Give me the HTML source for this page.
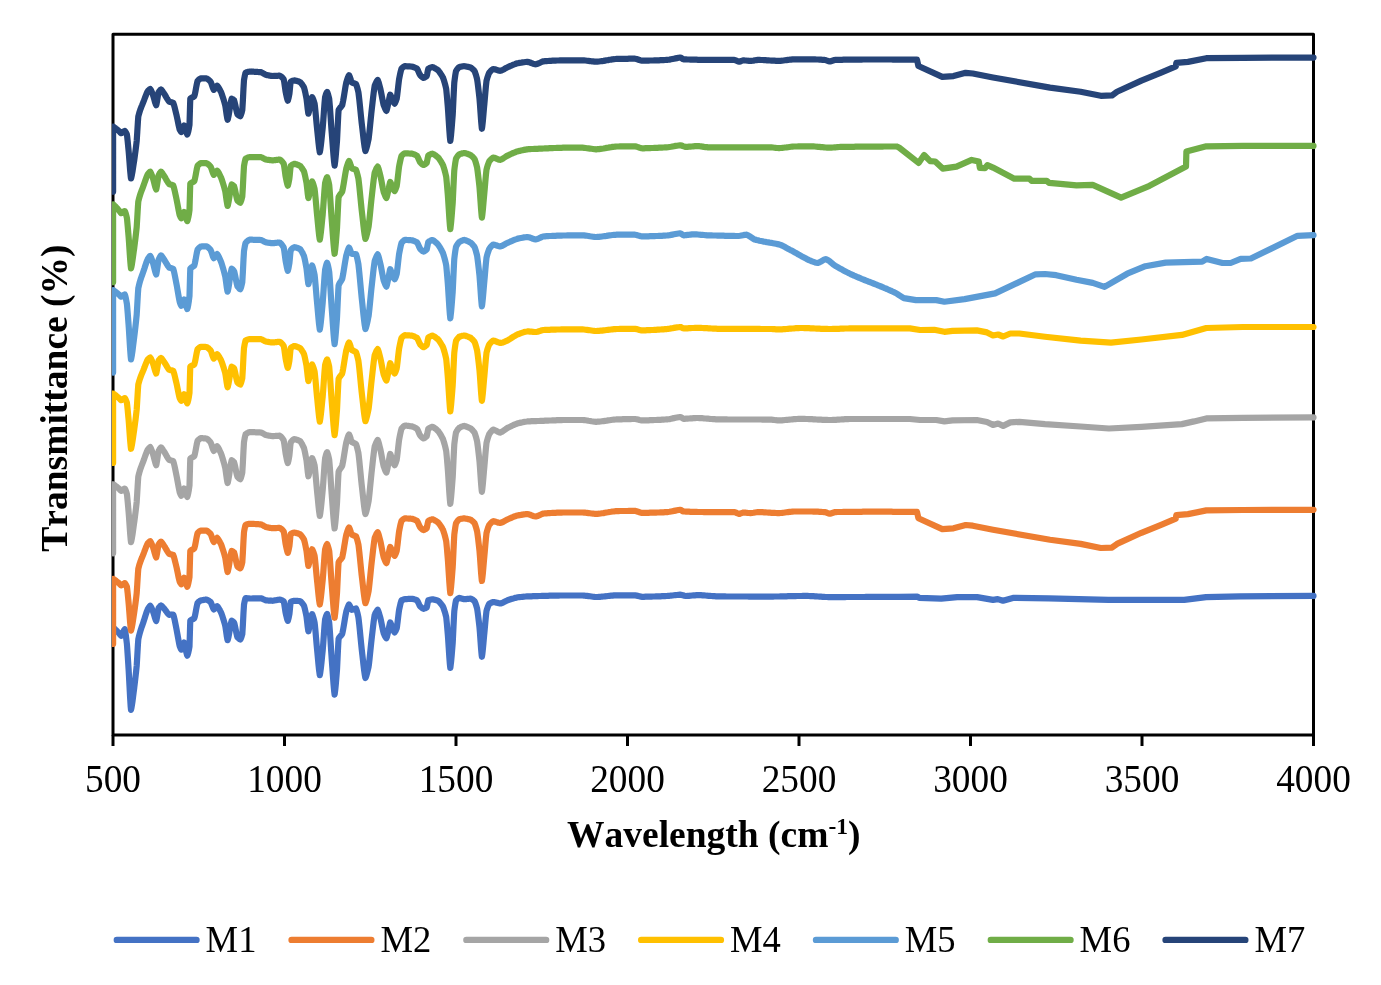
<!DOCTYPE html>
<html><head><meta charset="utf-8"><title>FTIR spectra</title>
<style>
html,body{margin:0;padding:0;background:#fff;}
svg{display:block;}
text{font-family:"Liberation Serif",serif;fill:#000;font-kerning:none;}
</style></head><body>
<svg width="1381" height="985" viewBox="0 0 1381 985">
<rect width="1381" height="985" fill="#fff"/>
<g fill="none" stroke="#000" stroke-width="3" stroke-linejoin="round">
<rect x="113.0" y="34.3" width="1200.5" height="700.7"/>
<line x1="113.0" y1="735.0" x2="113.0" y2="746"/><line x1="284.5" y1="735.0" x2="284.5" y2="746"/><line x1="456.0" y1="735.0" x2="456.0" y2="746"/><line x1="627.5" y1="735.0" x2="627.5" y2="746"/><line x1="799.0" y1="735.0" x2="799.0" y2="746"/><line x1="970.5" y1="735.0" x2="970.5" y2="746"/><line x1="1142.0" y1="735.0" x2="1142.0" y2="746"/><line x1="1313.5" y1="735.0" x2="1313.5" y2="746"/>
</g>
<clipPath id="pc"><rect x="112" y="30" width="1210" height="710"/></clipPath>
<g fill="none" stroke-width="6.2" stroke-linejoin="round" stroke-linecap="round" clip-path="url(#pc)">
<path d="M113.3 627.6 L113.9 628.1 L114.5 628.7 L115.1 629.3 L115.7 629.8 L116.3 630.4 L116.9 631.0 L117.5 631.6 L118.1 632.2 L118.7 632.8 L118.8 632.9 L119.3 633.5 L119.9 634.3 L120.5 635.1 L121.1 635.6 L121.2 635.7 L121.7 635.1 L122.3 634.0 L122.9 632.7 L123.5 631.4 L124.1 630.2 L124.7 629.4 L124.8 629.3 L125.3 631.7 L125.9 635.8 L126.5 640.7 L126.9 644.0 L127.1 646.6 L127.7 655.2 L128.3 664.6 L128.6 669.3 L128.9 674.5 L129.5 686.0 L130.1 697.4 L130.7 706.7 L131.0 709.8 L131.3 708.6 L131.9 705.3 L132.5 701.2 L133.1 696.5 L133.7 691.8 L134.2 688.0 L134.3 687.1 L134.9 682.1 L135.5 677.0 L136.1 671.6 L136.7 665.7 L136.7 665.7 L137.3 655.6 L137.9 645.0 L138.3 639.4 L138.5 638.4 L139.1 635.8 L139.7 633.5 L140.3 631.4 L140.9 629.4 L141.5 627.6 L142.1 625.9 L142.7 624.2 L143.3 622.4 L143.9 620.5 L144.0 620.2 L144.5 618.7 L145.1 616.8 L145.7 614.9 L146.3 613.1 L146.9 611.3 L147.5 609.8 L147.6 609.5 L148.1 608.7 L148.7 607.7 L149.3 606.8 L149.9 606.1 L150.2 605.8 L150.5 606.1 L151.1 607.1 L151.7 608.4 L152.3 609.7 L152.9 611.0 L152.9 611.1 L153.5 612.9 L154.1 614.9 L154.7 617.0 L155.3 618.9 L155.9 620.5 L156.2 621.0 L156.5 619.9 L157.1 616.7 L157.7 612.9 L158.3 609.4 L158.6 608.1 L158.9 607.7 L159.5 606.9 L160.1 606.2 L160.7 605.7 L161.0 605.5 L161.3 605.7 L161.9 606.1 L162.5 606.7 L163.1 607.4 L163.7 608.1 L164.3 608.8 L164.3 608.8 L164.9 609.5 L165.5 610.3 L166.1 611.2 L166.7 612.0 L167.3 612.9 L167.9 613.6 L168.5 614.2 L169.1 614.7 L169.2 614.8 L169.7 614.8 L170.3 614.7 L170.9 614.7 L171.5 614.7 L172.1 614.6 L172.7 614.6 L173.2 614.6 L173.3 614.8 L173.9 616.7 L174.5 619.2 L175.1 622.1 L175.7 625.2 L176.3 628.2 L176.5 629.2 L176.9 631.3 L177.5 634.6 L178.1 638.0 L178.7 641.3 L179.3 644.3 L179.7 646.1 L179.9 646.6 L180.5 648.1 L181.1 649.3 L181.3 649.6 L181.7 648.9 L182.3 647.3 L182.9 645.5 L183.5 643.8 L184.1 642.6 L184.1 642.6 L184.7 644.4 L185.3 647.1 L185.9 650.2 L186.5 653.0 L187.1 655.2 L187.3 655.7 L187.7 654.7 L188.3 652.7 L188.9 649.9 L189.5 646.5 L189.5 646.5 L190.1 625.9 L190.3 620.7 L190.7 620.3 L191.3 619.9 L191.9 619.6 L192.5 619.3 L193.1 619.1 L193.7 618.7 L194.3 618.3 L194.3 618.3 L194.9 616.1 L195.5 613.1 L196.1 609.8 L196.7 606.6 L197.3 603.9 L197.6 602.9 L197.9 602.6 L198.5 602.0 L199.1 601.5 L199.7 601.1 L200.3 600.7 L200.8 600.4 L200.9 600.4 L201.5 600.3 L202.1 600.2 L202.7 600.1 L203.3 600.0 L203.9 599.9 L204.5 599.8 L205.1 599.7 L205.7 599.7 L206.3 599.6 L206.5 599.6 L206.9 599.8 L207.5 600.0 L208.1 600.3 L208.7 600.7 L209.3 601.1 L209.9 601.5 L210.5 601.9 L210.6 602.0 L211.1 603.0 L211.7 604.5 L212.3 606.2 L212.9 607.7 L213.5 609.0 L213.8 609.4 L214.1 609.2 L214.7 608.6 L215.3 607.9 L215.9 607.2 L216.5 606.5 L217.1 606.1 L217.1 606.1 L217.7 606.7 L218.3 607.5 L218.9 608.5 L219.5 609.5 L220.1 610.7 L220.7 611.8 L221.1 612.6 L221.3 613.1 L221.9 614.8 L222.5 616.6 L223.1 618.4 L223.7 620.3 L224.3 622.4 L224.9 624.5 L225.2 625.6 L225.5 627.3 L226.1 631.4 L226.7 635.6 L227.3 639.0 L227.6 640.2 L227.9 639.3 L228.5 636.9 L229.1 633.7 L229.7 630.2 L230.3 626.7 L230.9 623.6 L231.5 621.2 L231.7 620.7 L232.1 620.9 L232.7 621.3 L233.3 621.8 L233.9 622.4 L234.1 622.7 L234.5 624.0 L235.1 626.6 L235.7 629.6 L236.3 632.6 L236.9 635.3 L237.4 637.1 L237.5 637.2 L238.1 637.8 L238.7 638.4 L239.3 638.9 L239.9 639.3 L240.3 639.5 L240.5 639.2 L241.1 637.9 L241.7 636.2 L242.3 634.2 L242.3 634.2 L242.9 624.6 L243.5 612.7 L244.0 604.7 L244.1 604.2 L244.7 601.2 L245.3 598.8 L245.6 598.1 L245.9 598.1 L246.5 598.1 L247.1 598.2 L247.7 598.3 L248.3 598.4 L248.9 598.4 L249.5 598.5 L249.6 598.5 L250.1 598.5 L250.7 598.5 L251.3 598.5 L251.9 598.5 L252.5 598.5 L253.1 598.4 L253.7 598.4 L254.3 598.4 L254.9 598.4 L255.5 598.4 L256.1 598.4 L256.7 598.4 L257.3 598.4 L257.9 598.3 L258.5 598.3 L259.1 598.3 L259.7 598.3 L260.3 598.3 L260.9 598.3 L261.0 598.3 L261.5 598.4 L262.1 598.6 L262.7 598.9 L263.3 599.2 L263.9 599.5 L264.5 599.8 L265.1 600.1 L265.7 600.3 L265.9 600.3 L266.3 600.4 L266.9 600.4 L267.5 600.5 L268.1 600.5 L268.7 600.6 L269.3 600.6 L269.9 600.6 L270.5 600.7 L271.1 600.7 L271.7 600.7 L272.3 600.8 L272.4 600.8 L272.9 600.7 L273.5 600.6 L274.1 600.5 L274.7 600.4 L275.3 600.3 L275.9 600.2 L276.5 600.1 L277.1 600.0 L277.7 599.9 L278.3 599.8 L278.9 599.7 L279.5 599.6 L279.7 599.6 L280.1 599.7 L280.7 599.9 L281.3 600.0 L281.9 600.3 L282.5 600.6 L283.1 600.9 L283.7 601.2 L283.7 601.2 L284.3 604.2 L284.9 608.2 L285.5 612.2 L285.7 613.3 L286.1 614.9 L286.7 617.4 L287.3 619.6 L287.8 620.8 L287.9 620.6 L288.5 618.5 L289.1 615.6 L289.4 614.1 L289.7 611.4 L290.3 605.0 L290.7 601.9 L290.9 601.8 L291.5 601.6 L292.1 601.3 L292.7 601.1 L293.3 601.0 L293.9 600.9 L294.3 600.8 L294.5 600.8 L295.1 600.8 L295.7 600.8 L296.3 600.9 L296.9 600.9 L297.5 600.9 L298.1 601.0 L298.7 601.0 L299.3 601.0 L299.9 601.1 L300.0 601.1 L300.5 601.5 L301.1 602.0 L301.7 602.6 L302.3 603.4 L302.9 604.2 L303.5 605.0 L304.0 605.8 L304.1 606.1 L304.7 608.3 L305.3 610.9 L305.9 613.7 L306.5 616.6 L306.5 616.6 L307.1 621.5 L307.7 626.8 L308.3 630.9 L308.4 631.3 L308.9 629.5 L309.5 626.4 L310.1 623.0 L310.5 620.9 L310.7 620.0 L311.3 617.1 L311.9 614.7 L312.1 614.2 L312.5 615.0 L313.1 616.7 L313.7 618.9 L314.3 621.3 L314.6 622.6 L314.9 625.2 L315.5 631.4 L316.1 638.4 L316.7 645.4 L317.0 648.7 L317.3 651.8 L317.9 658.3 L318.5 664.7 L319.1 670.4 L319.7 674.6 L319.8 675.1 L320.3 672.4 L320.9 667.8 L321.5 662.3 L322.1 656.3 L322.7 650.5 L322.7 650.5 L323.3 642.7 L323.9 634.0 L324.5 625.8 L325.1 619.3 L325.1 619.3 L325.7 617.3 L326.3 615.5 L326.9 614.2 L327.1 613.9 L327.5 615.0 L328.1 617.2 L328.7 620.1 L329.2 622.7 L329.3 623.7 L329.9 631.5 L330.5 640.5 L331.1 650.0 L331.6 657.4 L331.7 658.7 L332.3 667.1 L332.9 675.7 L333.5 683.8 L334.1 690.6 L334.6 694.6 L334.7 694.0 L335.3 689.4 L335.9 683.1 L336.5 675.9 L337.0 669.8 L337.1 668.1 L337.7 655.4 L338.3 643.1 L338.6 638.8 L338.9 638.2 L339.5 637.2 L340.1 636.5 L340.7 635.8 L341.3 635.2 L341.9 634.4 L342.2 633.9 L342.5 632.6 L343.1 629.7 L343.7 626.3 L344.3 622.7 L344.9 619.1 L345.5 615.6 L346.1 612.5 L346.3 611.5 L346.7 610.3 L347.3 608.5 L347.9 606.8 L348.5 605.3 L349.0 604.5 L349.1 604.6 L349.7 605.5 L350.3 606.8 L350.9 608.1 L351.5 609.3 L351.9 609.8 L352.1 609.7 L352.7 609.6 L353.3 609.4 L353.9 609.2 L354.5 608.9 L355.1 608.7 L355.7 608.6 L356.0 608.5 L356.3 609.2 L356.9 611.0 L357.5 613.3 L358.1 615.9 L358.4 617.3 L358.7 619.6 L359.3 625.0 L359.9 630.9 L360.5 637.1 L361.1 643.3 L361.7 649.1 L361.7 649.1 L362.3 654.3 L362.9 659.7 L363.5 665.1 L364.1 670.1 L364.7 674.4 L365.3 677.6 L365.4 678.0 L365.9 676.9 L366.5 675.2 L367.1 673.0 L367.7 670.6 L368.3 668.0 L368.6 666.7 L368.9 664.5 L369.5 659.3 L370.1 653.5 L370.7 647.6 L371.3 641.9 L371.5 640.1 L371.9 636.7 L372.5 631.5 L373.1 626.3 L373.7 621.4 L374.3 617.2 L374.7 614.8 L374.9 614.4 L375.5 613.1 L376.1 612.0 L376.7 611.0 L377.3 610.2 L377.7 609.8 L377.9 610.1 L378.5 611.6 L379.1 613.5 L379.7 615.6 L380.3 617.7 L380.4 618.1 L380.9 620.3 L381.5 623.2 L382.1 626.2 L382.7 629.1 L383.3 631.8 L383.7 633.3 L383.9 633.8 L384.5 635.1 L385.1 636.4 L385.7 637.4 L386.3 638.2 L386.4 638.3 L386.9 636.9 L387.5 634.5 L388.1 631.8 L388.6 629.6 L388.7 629.1 L389.3 626.1 L389.9 623.3 L390.2 622.4 L390.5 622.9 L391.1 624.3 L391.7 626.1 L392.3 627.8 L392.6 628.6 L392.9 629.2 L393.5 630.6 L394.1 631.7 L394.6 632.4 L394.7 632.3 L395.3 631.4 L395.9 630.3 L396.5 628.9 L396.7 628.4 L397.1 625.9 L397.7 621.1 L398.3 616.0 L398.9 611.2 L399.1 609.9 L399.5 608.0 L400.1 605.3 L400.7 602.8 L401.3 600.8 L401.5 600.3 L401.9 600.1 L402.5 599.9 L403.1 599.7 L403.7 599.5 L404.3 599.3 L404.8 599.2 L404.9 599.2 L405.5 599.1 L406.1 599.1 L406.7 599.1 L407.3 599.0 L407.9 599.0 L408.5 598.9 L409.1 598.9 L409.7 598.9 L410.3 598.8 L410.9 598.8 L411.5 598.8 L412.1 598.8 L412.1 598.8 L412.7 598.9 L413.3 599.0 L413.9 599.2 L414.5 599.4 L415.1 599.6 L415.7 599.8 L416.3 600.0 L416.9 600.3 L417.0 600.3 L417.5 601.1 L418.1 602.2 L418.7 603.5 L419.3 604.8 L419.9 606.0 L420.2 606.5 L420.5 606.7 L421.1 607.2 L421.7 607.7 L422.3 608.2 L422.9 608.5 L423.5 608.8 L423.5 608.8 L424.1 608.6 L424.7 608.4 L425.3 608.2 L425.9 607.9 L426.5 607.5 L426.7 607.4 L427.1 605.9 L427.7 602.7 L428.3 600.3 L428.3 600.3 L428.9 600.1 L429.5 599.9 L430.1 599.7 L430.7 599.6 L431.3 599.5 L431.9 599.4 L432.4 599.3 L432.5 599.3 L433.1 599.4 L433.7 599.5 L434.3 599.7 L434.9 599.8 L435.5 600.0 L436.1 600.1 L436.7 600.3 L437.3 600.5 L437.9 600.7 L438.1 600.8 L438.5 601.2 L439.1 601.7 L439.7 602.3 L440.3 603.0 L440.9 603.8 L441.5 604.5 L442.1 605.4 L442.7 606.2 L443.0 606.7 L443.3 607.4 L443.9 609.1 L444.5 610.9 L445.1 612.8 L445.7 615.1 L446.2 617.1 L446.3 618.0 L446.9 624.0 L447.5 631.0 L447.8 634.4 L448.1 638.5 L448.7 647.6 L449.3 656.7 L449.9 664.4 L450.3 667.9 L450.5 666.7 L451.1 661.7 L451.7 655.2 L452.3 647.9 L452.7 643.0 L452.9 639.3 L453.5 626.6 L454.1 614.4 L454.3 611.2 L454.7 608.1 L455.3 604.1 L455.9 600.9 L456.0 600.5 L456.5 600.0 L457.1 599.4 L457.7 598.8 L458.3 598.4 L458.9 598.1 L459.2 597.9 L459.5 598.0 L460.1 598.1 L460.7 598.3 L461.3 598.5 L461.9 598.6 L462.5 598.8 L463.1 599.0 L463.7 599.1 L464.1 599.2 L464.3 599.2 L464.9 599.2 L465.5 599.1 L466.1 599.1 L466.7 599.0 L467.3 598.9 L467.9 598.9 L468.5 598.8 L469.1 598.8 L469.7 598.7 L470.3 598.7 L470.6 598.7 L470.9 598.8 L471.5 599.0 L472.1 599.3 L472.7 599.7 L473.3 600.1 L473.9 600.6 L474.5 601.1 L474.6 601.2 L475.1 602.3 L475.7 603.9 L476.3 605.8 L476.9 607.8 L477.1 608.5 L477.5 611.1 L478.1 615.6 L478.7 620.5 L479.3 625.6 L479.5 627.4 L479.9 632.2 L480.5 640.7 L481.1 648.9 L481.7 655.4 L481.9 656.8 L482.3 654.3 L482.9 648.9 L483.5 642.4 L484.1 635.8 L484.4 632.7 L484.7 629.5 L485.3 622.7 L485.9 616.2 L486.5 610.9 L486.5 610.9 L487.1 609.0 L487.7 607.2 L488.3 605.7 L488.9 604.4 L489.2 603.9 L489.5 603.7 L490.1 603.3 L490.7 603.0 L491.3 602.7 L491.9 602.5 L492.5 602.2 L493.1 602.0 L493.3 602.0 L493.7 602.0 L494.3 602.1 L494.9 602.3 L495.5 602.4 L496.1 602.5 L496.7 602.7 L497.3 602.8 L497.9 603.0 L498.5 603.1 L499.1 603.3 L499.7 603.4 L500.0 603.4 L500.7 603.5 L501.5 603.3 L503.0 602.6 L504.5 601.8 L506.0 601.0 L507.2 600.4 L507.5 600.3 L509.0 599.8 L510.5 599.3 L512.0 598.8 L513.5 598.4 L515.0 597.9 L516.5 597.6 L517.3 597.4 L518.0 597.3 L519.5 597.1 L521.0 597.0 L522.5 596.8 L524.0 596.7 L525.5 596.5 L527.0 596.4 L527.4 596.4 L528.5 596.4 L530.0 596.3 L531.5 596.3 L533.0 596.2 L534.5 596.2 L536.0 596.1 L537.5 596.1 L539.0 596.0 L540.5 596.0 L542.0 595.9 L543.5 595.9 L545.0 595.8 L546.5 595.8 L548.0 595.8 L549.5 595.7 L551.0 595.7 L552.5 595.7 L554.0 595.6 L555.5 595.6 L557.0 595.6 L558.5 595.6 L560.0 595.5 L561.5 595.5 L563.0 595.5 L563.9 595.5 L564.5 595.5 L566.0 595.5 L567.5 595.5 L569.0 595.5 L570.5 595.5 L572.0 595.5 L573.5 595.5 L575.0 595.5 L576.5 595.5 L578.0 595.5 L579.5 595.5 L581.0 595.5 L582.2 595.5 L582.5 595.5 L584.0 595.6 L585.5 595.8 L587.0 595.9 L588.5 596.1 L590.0 596.3 L591.5 596.5 L593.0 596.7 L594.5 596.9 L596.0 597.0 L596.4 597.0 L597.5 597.0 L599.0 596.9 L600.5 596.8 L602.0 596.6 L603.5 596.5 L605.0 596.3 L606.5 596.2 L608.0 596.0 L609.5 595.8 L611.0 595.7 L612.5 595.6 L614.0 595.4 L615.5 595.4 L616.7 595.3 L617.0 595.3 L618.5 595.3 L620.0 595.3 L621.5 595.3 L623.0 595.3 L624.5 595.3 L626.0 595.3 L627.5 595.3 L629.0 595.3 L630.5 595.3 L632.0 595.3 L633.5 595.3 L634.9 595.3 L635.0 595.3 L636.5 595.6 L638.0 595.9 L639.5 596.3 L641.0 596.7 L642.0 596.8 L642.5 596.8 L644.0 596.8 L645.5 596.7 L647.0 596.7 L648.5 596.7 L650.0 596.6 L651.5 596.6 L653.0 596.5 L654.5 596.5 L656.0 596.4 L657.5 596.4 L659.0 596.3 L660.5 596.3 L662.0 596.2 L663.5 596.2 L665.0 596.1 L666.5 596.0 L667.3 596.0 L668.0 595.9 L669.5 595.8 L671.0 595.6 L672.5 595.5 L674.0 595.3 L675.5 595.1 L677.0 595.0 L678.5 594.8 L680.0 594.7 L680.5 594.7 L681.5 594.9 L683.0 595.3 L684.5 595.8 L685.6 596.0 L686.0 596.0 L687.5 595.9 L689.0 595.8 L690.5 595.7 L692.0 595.5 L693.5 595.4 L695.0 595.3 L696.5 595.2 L697.8 595.1 L698.0 595.1 L699.5 595.2 L701.0 595.2 L702.5 595.3 L704.0 595.4 L705.5 595.5 L707.0 595.7 L708.5 595.8 L710.0 595.9 L711.5 596.0 L713.0 596.1 L714.5 596.2 L716.0 596.3 L717.5 596.4 L718.0 596.4 L719.0 596.4 L720.5 596.4 L722.0 596.4 L723.5 596.4 L725.0 596.4 L726.5 596.5 L728.0 596.5 L729.5 596.5 L731.0 596.5 L732.5 596.5 L734.0 596.5 L735.5 596.5 L737.0 596.5 L738.5 596.5 L740.0 596.5 L741.5 596.5 L743.0 596.5 L744.5 596.5 L746.0 596.5 L747.5 596.5 L749.0 596.6 L750.5 596.6 L752.0 596.6 L753.5 596.6 L755.0 596.6 L756.5 596.6 L758.0 596.6 L759.5 596.6 L761.0 596.6 L762.5 596.6 L764.0 596.6 L765.5 596.6 L767.0 596.6 L768.5 596.6 L770.0 596.6 L771.5 596.6 L773.0 596.6 L774.5 596.5 L776.0 596.5 L777.5 596.5 L779.0 596.5 L780.5 596.4 L782.0 596.4 L783.5 596.4 L785.0 596.3 L786.5 596.3 L788.0 596.2 L789.5 596.2 L791.0 596.2 L792.5 596.1 L794.0 596.1 L795.5 596.1 L797.0 596.0 L798.5 596.0 L800.0 596.0 L801.5 596.0 L803.0 595.9 L804.5 595.9 L805.8 595.9 L806.0 595.9 L807.5 595.9 L809.0 596.0 L810.5 596.1 L812.0 596.1 L813.5 596.2 L815.0 596.3 L816.5 596.4 L818.0 596.5 L819.5 596.6 L821.0 596.7 L822.5 596.8 L824.0 596.9 L825.5 597.0 L827.0 597.0 L828.5 597.1 L829.7 597.1 L830.0 597.1 L831.5 597.1 L833.0 597.1 L834.5 597.1 L836.0 597.1 L837.5 597.1 L839.0 597.1 L840.5 597.1 L842.0 597.1 L843.5 597.1 L845.0 597.1 L846.5 597.0 L848.0 597.0 L849.5 597.0 L851.0 597.0 L852.5 597.0 L854.0 597.0 L855.5 597.0 L857.0 597.0 L858.5 597.0 L860.0 597.0 L861.5 597.0 L863.0 597.0 L864.5 597.0 L866.0 596.9 L867.5 596.9 L869.0 596.9 L870.5 596.9 L872.0 596.9 L873.5 596.9 L875.0 596.9 L876.5 596.9 L878.0 596.9 L879.5 596.9 L881.0 596.9 L882.5 596.8 L884.0 596.8 L885.5 596.8 L887.0 596.8 L888.5 596.8 L890.0 596.8 L891.5 596.8 L893.0 596.8 L894.5 596.8 L896.0 596.8 L897.5 596.8 L899.0 596.8 L917.4 596.7 L919.3 597.9 L941.2 598.7 L957.2 597.1 L977.1 597.1 L993.0 599.9 L997.8 599.1 L1003.0 600.7 L1012.9 597.9 L1048.8 598.3 L1108.5 599.9 L1184.2 599.9 L1206.1 597.1 L1240.0 596.3 L1313.5 595.9" stroke="#4472C4"/>
<path d="M113.1 643.9 L113.1 578.9 L113.3 578.9 L113.9 579.3 L114.5 579.8 L115.1 580.2 L115.7 580.7 L116.3 581.1 L116.9 581.6 L117.5 582.1 L118.1 582.5 L118.7 583.0 L118.8 583.1 L119.3 583.6 L119.9 584.3 L120.5 584.9 L121.1 585.3 L121.2 585.4 L121.7 585.2 L122.3 584.8 L122.9 584.3 L123.5 583.9 L124.1 583.4 L124.7 583.1 L124.8 583.1 L125.3 583.7 L125.9 584.6 L126.5 585.8 L126.9 586.7 L127.1 588.1 L127.7 593.5 L128.3 599.8 L128.6 602.9 L128.9 606.4 L129.5 614.3 L130.1 622.2 L130.7 628.5 L131.0 630.7 L131.3 629.7 L131.9 627.0 L132.5 623.6 L133.1 619.7 L133.7 615.8 L134.2 612.6 L134.3 611.9 L134.9 607.6 L135.5 603.1 L136.1 598.4 L136.7 593.2 L136.7 593.2 L137.3 583.9 L137.9 574.0 L138.3 568.8 L138.5 568.0 L139.1 565.7 L139.7 563.7 L140.3 561.9 L140.9 560.3 L141.5 558.7 L142.1 557.3 L142.7 555.8 L143.3 554.3 L143.9 552.8 L144.0 552.5 L144.5 551.2 L145.1 549.6 L145.7 548.0 L146.3 546.5 L146.9 545.1 L147.5 543.8 L147.6 543.6 L148.1 543.0 L148.7 542.4 L149.3 541.8 L149.9 541.4 L150.2 541.2 L150.5 541.6 L151.1 542.6 L151.7 544.0 L152.3 545.4 L152.9 546.9 L152.9 546.9 L153.5 548.8 L154.1 551.0 L154.7 553.2 L155.3 555.2 L155.9 556.8 L156.2 557.4 L156.5 556.3 L157.1 553.1 L157.7 549.2 L158.3 545.7 L158.6 544.4 L158.9 544.0 L159.5 543.1 L160.1 542.4 L160.7 541.9 L161.0 541.7 L161.3 541.9 L161.9 542.6 L162.5 543.4 L163.1 544.3 L163.7 545.2 L164.3 546.1 L164.3 546.1 L164.9 547.0 L165.5 548.1 L166.1 549.1 L166.7 550.2 L167.3 551.2 L167.9 552.1 L168.5 553.0 L169.1 553.7 L169.2 553.8 L169.7 554.0 L170.3 554.2 L170.9 554.3 L171.5 554.5 L172.1 554.6 L172.7 554.8 L173.2 555.0 L173.3 555.2 L173.9 556.9 L174.5 559.0 L175.1 561.4 L175.7 563.9 L176.3 566.4 L176.5 567.2 L176.9 569.0 L177.5 571.9 L178.1 574.9 L178.7 577.8 L179.3 580.3 L179.7 581.8 L179.9 582.2 L180.5 583.2 L181.1 584.0 L181.3 584.2 L181.7 583.6 L182.3 582.1 L182.9 580.4 L183.5 578.8 L184.1 577.7 L184.1 577.7 L184.7 579.0 L185.3 580.8 L185.9 582.9 L186.5 584.9 L187.1 586.4 L187.3 586.7 L187.7 585.6 L188.3 583.5 L188.9 580.5 L189.5 576.9 L189.5 576.9 L190.1 556.1 L190.3 550.9 L190.7 550.5 L191.3 550.1 L191.9 549.8 L192.5 549.5 L193.1 549.3 L193.7 548.9 L194.3 548.5 L194.3 548.5 L194.9 546.3 L195.5 543.3 L196.1 540.0 L196.7 536.8 L197.3 534.1 L197.6 533.1 L197.9 532.8 L198.5 532.2 L199.1 531.7 L199.7 531.2 L200.3 530.8 L200.8 530.6 L200.9 530.6 L201.5 530.6 L202.1 530.6 L202.7 530.6 L203.3 530.6 L203.9 530.6 L204.5 530.6 L205.1 530.6 L205.7 530.6 L206.3 530.6 L206.5 530.6 L206.9 530.8 L207.5 531.1 L208.1 531.6 L208.7 532.1 L209.3 532.6 L209.9 533.2 L210.5 533.8 L210.6 533.9 L211.1 535.0 L211.7 536.7 L212.3 538.5 L212.9 540.2 L213.5 541.5 L213.8 542.0 L214.1 541.8 L214.7 541.1 L215.3 540.2 L215.9 539.3 L216.5 538.5 L217.1 537.9 L217.1 537.9 L217.7 538.5 L218.3 539.3 L218.9 540.3 L219.5 541.3 L220.1 542.5 L220.7 543.6 L221.1 544.4 L221.3 544.9 L221.9 546.6 L222.5 548.4 L223.1 550.2 L223.7 552.1 L224.3 554.2 L224.9 556.3 L225.2 557.4 L225.5 559.1 L226.1 563.2 L226.7 567.4 L227.3 570.8 L227.6 572.0 L227.9 571.1 L228.5 568.4 L229.1 564.9 L229.7 561.1 L230.3 557.4 L230.9 554.0 L231.5 551.5 L231.7 550.9 L232.1 551.1 L232.7 551.4 L233.3 551.8 L233.9 552.3 L234.1 552.5 L234.5 553.8 L235.1 556.3 L235.7 559.2 L236.3 562.1 L236.9 564.7 L237.4 566.4 L237.5 566.5 L238.1 567.0 L238.7 567.5 L239.3 567.9 L239.9 568.2 L240.3 568.4 L240.5 568.1 L241.1 566.6 L241.7 564.7 L242.3 562.3 L242.3 562.3 L242.9 552.5 L243.5 540.4 L244.0 532.2 L244.1 531.6 L244.7 528.4 L245.3 525.8 L245.6 524.9 L245.9 524.8 L246.5 524.5 L247.1 524.3 L247.7 524.2 L248.3 524.0 L248.9 523.9 L249.5 523.8 L249.6 523.8 L250.1 523.8 L250.7 523.8 L251.3 523.9 L251.9 523.9 L252.5 523.9 L253.1 523.9 L253.7 523.9 L254.3 524.0 L254.9 524.0 L255.5 524.0 L256.1 524.1 L256.7 524.1 L257.3 524.1 L257.9 524.2 L258.5 524.2 L259.1 524.3 L259.7 524.3 L260.3 524.3 L260.9 524.4 L261.0 524.4 L261.5 524.6 L262.1 524.9 L262.7 525.2 L263.3 525.6 L263.9 525.9 L264.5 526.3 L265.1 526.6 L265.7 526.9 L265.9 527.0 L266.3 527.1 L266.9 527.2 L267.5 527.4 L268.1 527.5 L268.7 527.6 L269.3 527.7 L269.9 527.9 L270.5 528.0 L271.1 528.0 L271.7 528.1 L272.3 528.2 L272.4 528.2 L272.9 528.2 L273.5 528.2 L274.1 528.1 L274.7 528.1 L275.3 528.1 L275.9 528.1 L276.5 528.0 L277.1 528.0 L277.7 528.0 L278.3 527.9 L278.9 527.9 L279.5 527.9 L279.7 527.9 L280.1 528.1 L280.7 528.5 L281.3 528.9 L281.9 529.4 L282.5 530.0 L283.1 530.7 L283.7 531.4 L283.7 531.4 L284.3 534.7 L284.9 539.0 L285.5 543.2 L285.7 544.4 L286.1 546.3 L286.7 549.1 L287.3 551.5 L287.8 552.9 L287.9 552.7 L288.5 550.5 L289.1 547.6 L289.4 546.1 L289.7 543.4 L290.3 537.0 L290.7 533.9 L290.9 533.8 L291.5 533.5 L292.1 533.2 L292.7 533.0 L293.3 532.8 L293.9 532.7 L294.3 532.6 L294.5 532.6 L295.1 532.7 L295.7 532.9 L296.3 533.0 L296.9 533.2 L297.5 533.3 L298.1 533.5 L298.7 533.7 L299.3 533.9 L299.9 534.2 L300.0 534.2 L300.5 534.7 L301.1 535.3 L301.7 536.1 L302.3 536.9 L302.9 537.8 L303.5 538.7 L304.0 539.6 L304.1 539.9 L304.7 542.2 L305.3 544.9 L305.9 547.8 L306.5 550.9 L306.5 550.9 L307.1 555.9 L307.7 561.3 L308.3 565.5 L308.4 565.9 L308.9 564.2 L309.5 561.2 L310.1 557.8 L310.5 555.8 L310.7 554.9 L311.3 552.1 L311.9 549.8 L312.1 549.3 L312.5 549.9 L313.1 551.2 L313.7 552.9 L314.3 554.8 L314.6 555.8 L314.9 558.2 L315.5 564.0 L316.1 570.6 L316.7 577.1 L317.0 580.2 L317.3 583.0 L317.9 589.0 L318.5 595.0 L319.1 600.2 L319.7 604.0 L319.8 604.5 L320.3 601.8 L320.9 597.3 L321.5 591.9 L322.1 586.0 L322.7 580.2 L322.7 580.2 L323.3 572.4 L323.9 563.9 L324.5 555.7 L325.1 549.3 L325.1 549.3 L325.7 547.3 L326.3 545.6 L326.9 544.4 L327.1 544.1 L327.5 544.9 L328.1 546.7 L328.7 548.9 L329.2 550.9 L329.3 551.9 L329.9 559.0 L330.5 567.5 L331.1 576.5 L331.6 583.4 L331.7 584.6 L332.3 592.3 L332.9 600.3 L333.5 607.8 L334.1 614.1 L334.6 617.8 L334.7 617.3 L335.3 612.7 L335.9 606.4 L336.5 599.3 L337.0 593.2 L337.1 591.5 L337.7 578.9 L338.3 566.6 L338.6 562.3 L338.9 561.7 L339.5 560.8 L340.1 560.0 L340.7 559.4 L341.3 558.7 L341.9 557.9 L342.2 557.4 L342.5 556.2 L343.1 553.2 L343.7 549.8 L344.3 546.1 L344.9 542.4 L345.5 538.8 L346.1 535.6 L346.3 534.7 L346.7 533.4 L347.3 531.5 L347.9 529.7 L348.5 528.3 L349.0 527.4 L349.1 527.5 L349.7 528.8 L350.3 530.5 L350.9 532.3 L351.5 533.9 L351.9 534.7 L352.1 534.8 L352.7 535.1 L353.3 535.3 L353.9 535.5 L354.5 535.7 L355.1 535.9 L355.7 536.1 L356.0 536.3 L356.3 537.0 L356.9 538.7 L357.5 540.8 L358.1 543.2 L358.4 544.4 L358.7 546.7 L359.3 551.8 L359.9 557.6 L360.5 563.7 L361.1 569.7 L361.7 575.3 L361.7 575.3 L362.3 580.3 L362.9 585.6 L363.5 590.8 L364.1 595.6 L364.7 599.7 L365.3 602.8 L365.4 603.2 L365.9 602.0 L366.5 600.2 L367.1 597.9 L367.7 595.3 L368.3 592.6 L368.6 591.2 L368.9 588.9 L369.5 583.5 L370.1 577.7 L370.7 571.6 L371.3 565.7 L371.5 563.9 L371.9 560.4 L372.5 555.1 L373.1 549.8 L373.7 544.8 L374.3 540.4 L374.7 537.9 L374.9 537.4 L375.5 536.0 L376.1 534.7 L376.7 533.5 L377.3 532.6 L377.7 532.2 L377.9 532.6 L378.5 534.2 L379.1 536.2 L379.7 538.5 L380.3 540.8 L380.4 541.2 L380.9 543.5 L381.5 546.6 L382.1 549.8 L382.7 552.9 L383.3 555.7 L383.7 557.4 L383.9 557.9 L384.5 559.4 L385.1 560.9 L385.7 562.1 L386.3 563.0 L386.4 563.1 L386.9 561.7 L387.5 559.2 L388.1 556.4 L388.6 554.2 L388.7 553.7 L389.3 550.6 L389.9 547.8 L390.2 546.9 L390.5 547.3 L391.1 548.6 L391.7 550.2 L392.3 551.8 L392.6 552.5 L392.9 553.1 L393.5 554.2 L394.1 555.2 L394.6 555.8 L394.7 555.7 L395.3 554.6 L395.9 553.2 L396.5 551.5 L396.7 550.9 L397.1 548.2 L397.7 543.3 L398.3 537.9 L398.9 532.9 L399.1 531.4 L399.5 529.4 L400.1 526.4 L400.7 523.7 L401.3 521.5 L401.5 520.9 L401.9 520.5 L402.5 519.9 L403.1 519.4 L403.7 519.0 L404.3 518.6 L404.8 518.4 L404.9 518.4 L405.5 518.4 L406.1 518.4 L406.7 518.5 L407.3 518.5 L407.9 518.5 L408.5 518.6 L409.1 518.6 L409.7 518.6 L410.3 518.7 L410.9 518.7 L411.5 518.8 L412.1 518.8 L412.1 518.8 L412.7 519.0 L413.3 519.2 L413.9 519.4 L414.5 519.6 L415.1 519.9 L415.7 520.2 L416.3 520.5 L416.9 520.8 L417.0 520.9 L417.5 521.7 L418.1 522.9 L418.7 524.3 L419.3 525.7 L419.9 526.9 L420.2 527.4 L420.5 527.7 L421.1 528.3 L421.7 528.9 L422.3 529.4 L422.9 529.8 L423.5 530.1 L423.5 530.1 L424.1 529.9 L424.7 529.6 L425.3 529.3 L425.9 528.8 L426.5 528.4 L426.7 528.2 L427.1 526.6 L427.7 523.4 L428.3 520.9 L428.3 520.9 L428.9 520.6 L429.5 520.3 L430.1 520.0 L430.7 519.8 L431.3 519.6 L431.9 519.4 L432.4 519.3 L432.5 519.3 L433.1 519.5 L433.7 519.8 L434.3 520.1 L434.9 520.4 L435.5 520.8 L436.1 521.1 L436.7 521.5 L437.3 521.9 L437.9 522.4 L438.1 522.5 L438.5 523.0 L439.1 523.7 L439.7 524.5 L440.3 525.4 L440.9 526.3 L441.5 527.2 L442.1 528.2 L442.7 529.3 L443.0 529.8 L443.3 530.7 L443.9 532.5 L444.5 534.4 L445.1 536.6 L445.7 539.0 L446.2 541.2 L446.3 542.1 L446.9 548.3 L447.5 555.4 L447.8 559.0 L448.1 563.1 L448.7 572.5 L449.3 581.8 L449.9 589.6 L450.3 593.2 L450.5 592.0 L451.1 586.8 L451.7 580.0 L452.3 572.3 L452.7 567.2 L452.9 563.5 L453.5 550.5 L454.1 538.0 L454.3 534.7 L454.7 531.5 L455.3 527.2 L455.9 523.8 L456.0 523.3 L456.5 522.5 L457.1 521.6 L457.7 520.8 L458.3 520.1 L458.9 519.5 L459.2 519.3 L459.5 519.2 L460.1 519.1 L460.7 518.9 L461.3 518.8 L461.9 518.7 L462.5 518.6 L463.1 518.5 L463.7 518.4 L464.1 518.4 L464.3 518.4 L464.9 518.5 L465.5 518.6 L466.1 518.7 L466.7 518.8 L467.3 518.9 L467.9 519.0 L468.5 519.2 L469.1 519.3 L469.7 519.5 L470.3 519.6 L470.6 519.7 L470.9 519.9 L471.5 520.3 L472.1 520.8 L472.7 521.3 L473.3 521.9 L473.9 522.5 L474.5 523.2 L474.6 523.3 L475.1 524.6 L475.7 526.4 L476.3 528.4 L476.9 530.6 L477.1 531.4 L477.5 534.1 L478.1 538.7 L478.7 543.8 L479.3 549.1 L479.5 550.9 L479.9 555.9 L480.5 564.5 L481.1 573.0 L481.7 579.5 L481.9 581.0 L482.3 578.4 L482.9 572.8 L483.5 566.0 L484.1 559.0 L484.4 555.8 L484.7 552.5 L485.3 545.5 L485.9 538.7 L486.5 533.1 L486.5 533.1 L487.1 530.9 L487.7 528.9 L488.3 527.1 L488.9 525.6 L489.2 524.9 L489.5 524.6 L490.1 523.9 L490.7 523.2 L491.3 522.6 L491.9 522.1 L492.5 521.7 L493.1 521.3 L493.3 521.2 L493.7 521.3 L494.3 521.4 L494.9 521.5 L495.5 521.7 L496.1 521.9 L496.7 522.1 L497.3 522.3 L497.9 522.5 L498.5 522.7 L499.1 522.8 L499.7 522.9 L500.0 523.0 L500.1 523.0 L501.5 522.6 L503.0 521.9 L504.5 521.1 L506.0 520.2 L507.2 519.6 L507.5 519.5 L509.0 518.8 L510.5 518.1 L512.0 517.5 L513.5 516.8 L515.0 516.3 L516.5 515.7 L517.3 515.5 L518.0 515.4 L519.5 515.1 L521.0 514.9 L522.5 514.6 L524.0 514.4 L525.5 514.2 L527.0 514.1 L527.4 514.1 L528.5 514.3 L530.0 514.7 L531.5 515.3 L533.0 515.9 L534.5 516.3 L535.6 516.5 L536.0 516.4 L537.5 516.0 L539.0 515.4 L540.5 514.7 L542.0 514.0 L543.5 513.5 L543.7 513.5 L545.0 513.4 L546.5 513.3 L548.0 513.2 L549.5 513.1 L551.0 513.0 L552.5 512.9 L554.0 512.8 L555.5 512.8 L557.0 512.7 L558.5 512.7 L560.0 512.6 L561.5 512.6 L563.0 512.5 L563.9 512.5 L564.5 512.5 L566.0 512.5 L567.5 512.5 L569.0 512.5 L570.5 512.5 L572.0 512.5 L573.5 512.5 L575.0 512.5 L576.5 512.5 L578.0 512.5 L579.5 512.5 L581.0 512.5 L582.2 512.5 L582.5 512.5 L584.0 512.6 L585.5 512.7 L587.0 512.9 L588.5 513.1 L590.0 513.3 L591.5 513.5 L593.0 513.6 L594.5 513.8 L596.0 513.9 L596.4 513.9 L597.5 513.8 L599.0 513.7 L600.5 513.5 L602.0 513.3 L603.5 513.1 L605.0 512.8 L606.5 512.5 L608.0 512.3 L609.5 512.0 L611.0 511.8 L612.5 511.5 L614.0 511.4 L615.5 511.2 L616.7 511.1 L617.0 511.1 L618.5 511.1 L620.0 511.0 L621.5 511.0 L623.0 511.0 L624.5 511.0 L626.0 511.0 L627.5 511.0 L629.0 510.9 L630.5 510.9 L632.0 510.9 L633.5 510.9 L634.9 510.9 L635.0 510.9 L636.5 511.2 L638.0 511.7 L639.5 512.3 L641.0 512.7 L642.0 512.9 L642.5 512.9 L644.0 512.9 L645.5 512.8 L647.0 512.8 L648.5 512.8 L650.0 512.7 L651.5 512.7 L653.0 512.7 L654.5 512.6 L656.0 512.6 L657.5 512.5 L659.0 512.5 L660.5 512.4 L662.0 512.3 L663.5 512.3 L665.0 512.2 L666.5 512.1 L667.3 512.1 L668.0 512.0 L669.5 511.8 L671.0 511.5 L672.5 511.2 L674.0 510.9 L675.5 510.6 L677.0 510.3 L678.5 510.0 L680.0 509.8 L680.5 509.8 L681.5 510.3 L683.0 511.3 L683.6 511.5 L684.5 511.5 L686.0 511.6 L687.5 511.7 L689.0 511.7 L690.5 511.8 L692.0 511.8 L693.5 511.9 L695.0 511.9 L696.5 511.9 L698.0 512.0 L699.5 512.0 L701.0 512.0 L702.5 512.0 L704.0 512.1 L705.5 512.1 L707.0 512.1 L707.9 512.1 L708.5 512.1 L710.0 512.1 L711.5 512.1 L713.0 512.1 L714.5 512.1 L716.0 512.1 L717.5 512.1 L719.0 512.1 L720.5 512.1 L722.0 512.1 L723.5 512.1 L725.0 512.1 L726.5 512.1 L728.0 512.1 L729.5 512.1 L731.0 512.1 L732.5 512.1 L734.0 512.1 L734.3 512.1 L735.5 512.4 L737.0 513.1 L738.5 513.7 L739.3 513.9 L740.0 513.7 L741.5 513.1 L743.0 512.6 L743.4 512.5 L744.5 512.6 L746.0 512.7 L747.5 512.9 L749.0 513.0 L750.5 513.1 L752.0 513.0 L753.5 512.8 L755.0 512.5 L756.5 512.3 L758.0 512.1 L758.6 512.1 L759.5 512.1 L761.0 512.2 L762.5 512.2 L764.0 512.3 L765.5 512.4 L767.0 512.5 L768.5 512.6 L770.0 512.7 L771.5 512.8 L773.0 512.9 L774.5 512.9 L776.0 513.0 L777.5 513.1 L779.0 513.1 L779.1 513.1 L780.5 513.0 L782.0 512.9 L783.5 512.7 L785.0 512.5 L786.5 512.3 L788.0 512.1 L789.5 511.9 L791.0 511.8 L792.5 511.6 L794.0 511.5 L794.3 511.5 L795.5 511.5 L797.0 511.5 L798.5 511.5 L800.0 511.5 L801.5 511.5 L803.0 511.5 L804.5 511.5 L806.0 511.5 L807.5 511.5 L809.0 511.5 L810.5 511.5 L810.6 511.5 L812.0 511.5 L813.5 511.6 L815.0 511.6 L816.5 511.7 L818.0 511.7 L819.5 511.8 L821.0 511.9 L822.5 512.0 L824.0 512.1 L824.7 512.1 L825.5 512.3 L827.0 512.8 L828.5 513.4 L829.8 513.7 L830.0 513.7 L831.5 513.2 L833.0 512.7 L834.5 512.2 L834.9 512.1 L836.0 512.1 L837.5 512.0 L839.0 512.0 L840.5 512.0 L842.0 512.0 L843.5 511.9 L845.0 511.9 L846.5 511.9 L848.0 511.9 L849.5 511.9 L851.0 511.8 L852.5 511.8 L854.0 511.8 L855.5 511.8 L857.0 511.8 L858.5 511.8 L860.0 511.8 L861.5 511.8 L863.0 511.7 L864.5 511.7 L866.0 511.7 L867.5 511.7 L869.0 511.7 L870.5 511.7 L871.4 511.7 L872.0 511.7 L873.5 511.7 L875.0 511.7 L876.5 511.7 L878.0 511.7 L879.5 511.7 L881.0 511.7 L882.5 511.7 L884.0 511.7 L885.5 511.7 L887.0 511.7 L888.5 511.7 L890.0 511.7 L891.5 511.7 L893.0 511.8 L894.5 511.8 L896.0 511.8 L897.5 511.8 L899.0 511.8 L917.0 511.9 L918.4 518.2 L942.3 529.1 L953.5 528.3 L965.7 525.0 L972.8 525.7 L993.0 529.7 L1050.0 539.8 L1080.6 543.9 L1100.8 548.0 L1112.0 547.6 L1117.0 543.9 L1141.4 532.8 L1161.7 524.6 L1175.8 518.6 L1176.3 515.1 L1188.0 514.1 L1206.3 510.4 L1242.8 510.0 L1313.5 509.8" stroke="#ED7D31"/>
<path d="M113.1 553.3 L113.1 484.3 L113.3 484.3 L113.9 484.7 L114.5 485.2 L115.1 485.6 L115.7 486.1 L116.3 486.5 L116.9 487.0 L117.5 487.5 L118.1 487.9 L118.7 488.4 L118.8 488.5 L119.3 489.0 L119.9 489.7 L120.5 490.3 L121.1 490.7 L121.2 490.8 L121.7 490.6 L122.3 490.2 L122.9 489.7 L123.5 489.3 L124.1 488.8 L124.7 488.5 L124.8 488.5 L125.3 489.4 L125.9 490.9 L126.5 492.8 L126.9 494.1 L127.1 495.7 L127.7 501.8 L128.3 508.6 L128.6 512.0 L128.9 515.8 L129.5 524.4 L130.1 532.9 L130.7 539.8 L131.0 542.1 L131.3 541.0 L131.9 538.1 L132.5 534.4 L133.1 530.2 L133.7 525.9 L134.2 522.4 L134.3 521.7 L134.9 517.1 L135.5 512.3 L136.1 507.3 L136.7 501.8 L136.7 501.8 L137.3 492.2 L137.9 482.0 L138.3 476.6 L138.5 475.7 L139.1 473.4 L139.7 471.2 L140.3 469.3 L140.9 467.6 L141.5 466.0 L142.1 464.4 L142.7 462.9 L143.3 461.3 L143.9 459.7 L144.0 459.4 L144.5 458.0 L145.1 456.3 L145.7 454.6 L146.3 453.0 L146.9 451.5 L147.5 450.1 L147.6 449.9 L148.1 449.3 L148.7 448.5 L149.3 447.8 L149.9 447.3 L150.2 447.1 L150.5 447.5 L151.1 448.8 L151.7 450.3 L152.3 452.0 L152.9 453.7 L152.9 453.7 L153.5 455.8 L154.1 458.2 L154.7 460.6 L155.3 462.8 L155.9 464.6 L156.2 465.2 L156.5 464.1 L157.1 460.6 L157.7 456.4 L158.3 452.6 L158.6 451.1 L158.9 450.6 L159.5 449.4 L160.1 448.4 L160.7 447.7 L161.0 447.4 L161.3 447.6 L161.9 448.3 L162.5 449.1 L163.1 450.1 L163.7 451.0 L164.3 451.9 L164.3 451.9 L164.9 452.9 L165.5 453.9 L166.1 455.0 L166.7 456.1 L167.3 457.1 L167.9 458.1 L168.5 459.0 L169.1 459.7 L169.2 459.8 L169.7 460.0 L170.3 460.2 L170.9 460.4 L171.5 460.6 L172.1 460.8 L172.7 461.0 L173.2 461.2 L173.3 461.5 L173.9 463.4 L174.5 465.9 L175.1 468.7 L175.7 471.7 L176.3 474.6 L176.5 475.6 L176.9 477.6 L177.5 480.9 L178.1 484.3 L178.7 487.5 L179.3 490.5 L179.7 492.3 L179.9 492.8 L180.5 494.3 L181.1 495.4 L181.3 495.7 L181.7 495.0 L182.3 493.4 L182.9 491.5 L183.5 489.7 L184.1 488.5 L184.1 488.5 L184.7 489.7 L185.3 491.4 L185.9 493.4 L186.5 495.2 L187.1 496.6 L187.3 496.9 L187.7 495.6 L188.3 493.0 L188.9 489.6 L189.5 485.3 L189.5 485.3 L190.1 464.0 L190.3 458.7 L190.7 458.3 L191.3 457.9 L191.9 457.5 L192.5 457.3 L193.1 457.0 L193.7 456.7 L194.3 456.2 L194.3 456.2 L194.9 454.0 L195.5 451.0 L196.1 447.7 L196.7 444.5 L197.3 441.8 L197.6 440.7 L197.9 440.4 L198.5 439.8 L199.1 439.3 L199.7 438.8 L200.3 438.4 L200.8 438.2 L200.9 438.2 L201.5 438.2 L202.1 438.2 L202.7 438.2 L203.3 438.3 L203.9 438.3 L204.5 438.4 L205.1 438.4 L205.7 438.5 L206.3 438.5 L206.5 438.6 L206.9 438.8 L207.5 439.2 L208.1 439.7 L208.7 440.3 L209.3 440.9 L209.9 441.6 L210.5 442.3 L210.6 442.4 L211.1 443.6 L211.7 445.3 L212.3 447.2 L212.9 449.0 L213.5 450.4 L213.8 450.9 L214.1 450.6 L214.7 449.8 L215.3 448.8 L215.9 447.8 L216.5 446.8 L217.1 446.2 L217.1 446.2 L217.7 446.9 L218.3 447.8 L218.9 449.0 L219.5 450.2 L220.1 451.5 L220.7 452.9 L221.1 453.7 L221.3 454.3 L221.9 456.1 L222.5 458.0 L223.1 460.0 L223.7 462.1 L224.3 464.3 L224.9 466.6 L225.2 467.8 L225.5 469.6 L226.1 473.8 L226.7 478.2 L227.3 481.8 L227.6 483.0 L227.9 482.0 L228.5 479.1 L229.1 475.4 L229.7 471.3 L230.3 467.2 L230.9 463.6 L231.5 460.9 L231.7 460.3 L232.1 460.5 L232.7 460.9 L233.3 461.5 L233.9 462.1 L234.1 462.3 L234.5 463.6 L235.1 466.2 L235.7 469.2 L236.3 472.3 L236.9 475.0 L237.4 476.7 L237.5 476.8 L238.1 477.5 L238.7 478.1 L239.3 478.6 L239.9 479.0 L240.3 479.2 L240.5 478.8 L241.1 477.3 L241.7 475.1 L242.3 472.6 L242.3 472.6 L242.9 462.6 L243.5 450.3 L244.0 442.0 L244.1 441.4 L244.7 438.0 L245.3 435.3 L245.6 434.3 L245.9 434.0 L246.5 433.6 L247.1 433.2 L247.7 432.9 L248.3 432.6 L248.9 432.3 L249.5 432.1 L249.6 432.1 L250.1 432.1 L250.7 432.1 L251.3 432.1 L251.9 432.1 L252.5 432.2 L253.1 432.2 L253.7 432.2 L254.3 432.2 L254.9 432.2 L255.5 432.3 L256.1 432.3 L256.7 432.3 L257.3 432.3 L257.9 432.3 L258.5 432.4 L259.1 432.4 L259.7 432.4 L260.3 432.5 L260.9 432.5 L261.0 432.5 L261.5 432.7 L262.1 432.9 L262.7 433.3 L263.3 433.6 L263.9 434.0 L264.5 434.3 L265.1 434.7 L265.7 434.9 L265.9 435.0 L266.3 435.1 L266.9 435.2 L267.5 435.4 L268.1 435.5 L268.7 435.6 L269.3 435.7 L269.9 435.8 L270.5 435.9 L271.1 436.0 L271.7 436.0 L272.3 436.1 L272.4 436.1 L272.9 436.1 L273.5 436.1 L274.1 436.0 L274.7 436.0 L275.3 436.0 L275.9 435.9 L276.5 435.9 L277.1 435.8 L277.7 435.8 L278.3 435.8 L278.9 435.7 L279.5 435.7 L279.7 435.7 L280.1 436.0 L280.7 436.4 L281.3 437.0 L281.9 437.7 L282.5 438.5 L283.1 439.4 L283.7 440.4 L283.7 440.4 L284.3 443.9 L284.9 448.3 L285.5 452.7 L285.7 454.0 L286.1 456.0 L286.7 459.0 L287.3 461.6 L287.8 463.1 L287.9 462.8 L288.5 460.4 L289.1 457.1 L289.4 455.4 L289.7 452.5 L290.3 445.8 L290.7 442.4 L290.9 442.2 L291.5 441.4 L292.1 440.7 L292.7 440.2 L293.3 439.7 L293.9 439.3 L294.3 439.1 L294.5 439.1 L295.1 439.3 L295.7 439.4 L296.3 439.6 L296.9 439.8 L297.5 440.0 L298.1 440.2 L298.7 440.4 L299.3 440.7 L299.9 441.0 L300.0 441.0 L300.5 441.6 L301.1 442.5 L301.7 443.5 L302.3 444.6 L302.9 445.8 L303.5 447.0 L304.0 448.1 L304.1 448.5 L304.7 451.1 L305.3 454.0 L305.9 457.2 L306.5 460.5 L306.5 460.5 L307.1 465.7 L307.7 471.5 L308.3 475.8 L308.4 476.3 L308.9 474.4 L309.5 471.1 L310.1 467.5 L310.5 465.3 L310.7 464.3 L311.3 461.2 L311.9 458.7 L312.1 458.1 L312.5 458.8 L313.1 460.3 L313.7 462.2 L314.3 464.3 L314.6 465.4 L314.9 467.9 L315.5 473.9 L316.1 480.7 L316.7 487.5 L317.0 490.7 L317.3 493.6 L317.9 499.8 L318.5 506.0 L319.1 511.4 L319.7 515.4 L319.8 515.9 L320.3 513.1 L320.9 508.3 L321.5 502.6 L322.1 496.4 L322.7 490.3 L322.7 490.3 L323.3 482.3 L323.9 473.4 L324.5 465.0 L325.1 458.3 L325.1 458.3 L325.7 456.0 L326.3 454.0 L326.9 452.5 L327.1 452.2 L327.5 453.1 L328.1 455.0 L328.7 457.5 L329.2 459.7 L329.3 460.7 L329.9 468.1 L330.5 476.8 L331.1 485.9 L331.6 493.1 L331.7 494.3 L332.3 502.3 L332.9 510.5 L333.5 518.2 L334.1 524.7 L334.6 528.5 L334.7 527.9 L335.3 523.2 L335.9 516.8 L336.5 509.4 L337.0 503.1 L337.1 501.3 L337.7 488.6 L338.3 476.1 L338.6 471.7 L338.9 471.0 L339.5 469.9 L340.1 469.0 L340.7 468.2 L341.3 467.4 L341.9 466.4 L342.2 465.8 L342.5 464.5 L343.1 461.4 L343.7 457.8 L344.3 454.1 L344.9 450.2 L345.5 446.6 L346.1 443.3 L346.3 442.3 L346.7 440.9 L347.3 438.8 L347.9 436.9 L348.5 435.3 L349.0 434.4 L349.1 434.5 L349.7 435.8 L350.3 437.6 L350.9 439.5 L351.5 441.2 L351.9 442.0 L352.1 442.2 L352.7 442.5 L353.3 442.8 L353.9 443.0 L354.5 443.3 L355.1 443.6 L355.7 443.9 L356.0 444.1 L356.3 444.9 L356.9 446.8 L357.5 449.1 L358.1 451.6 L358.4 453.0 L358.7 455.3 L359.3 460.7 L359.9 466.7 L360.5 472.9 L361.1 479.1 L361.7 484.9 L361.7 484.9 L362.3 490.1 L362.9 495.6 L363.5 501.0 L364.1 506.1 L364.7 510.4 L365.3 513.6 L365.4 514.0 L365.9 512.8 L366.5 510.8 L367.1 508.3 L367.7 505.6 L368.3 502.7 L368.6 501.2 L368.9 498.8 L369.5 493.3 L370.1 487.3 L370.7 481.1 L371.3 475.1 L371.5 473.2 L371.9 469.7 L372.5 464.2 L373.1 458.7 L373.7 453.6 L374.3 449.0 L374.7 446.4 L374.9 445.9 L375.5 444.3 L376.1 442.8 L376.7 441.5 L377.3 440.5 L377.7 440.0 L377.9 440.4 L378.5 442.1 L379.1 444.2 L379.7 446.7 L380.3 449.1 L380.4 449.5 L380.9 451.9 L381.5 455.1 L382.1 458.4 L382.7 461.6 L383.3 464.5 L383.7 466.3 L383.9 466.8 L384.5 468.5 L385.1 470.1 L385.7 471.4 L386.3 472.4 L386.4 472.5 L386.9 470.9 L387.5 468.0 L388.1 464.8 L388.6 462.2 L388.7 461.7 L389.3 458.2 L389.9 454.9 L390.2 453.9 L390.5 454.4 L391.1 456.0 L391.7 458.0 L392.3 459.9 L392.6 460.8 L392.9 461.5 L393.5 463.1 L394.1 464.4 L394.6 465.2 L394.7 465.1 L395.3 463.9 L395.9 462.3 L396.5 460.5 L396.7 459.8 L397.1 457.1 L397.7 452.0 L398.3 446.5 L398.9 441.3 L399.1 439.8 L399.5 437.7 L400.1 434.7 L400.7 431.8 L401.3 429.5 L401.5 428.8 L401.9 428.3 L402.5 427.6 L403.1 426.9 L403.7 426.3 L404.3 425.9 L404.8 425.6 L404.9 425.6 L405.5 425.6 L406.1 425.7 L406.7 425.7 L407.3 425.8 L407.9 425.9 L408.5 425.9 L409.1 426.0 L409.7 426.1 L410.3 426.2 L410.9 426.3 L411.5 426.3 L412.1 426.4 L412.1 426.4 L412.7 426.6 L413.3 426.9 L413.9 427.1 L414.5 427.4 L415.1 427.7 L415.7 428.0 L416.3 428.4 L416.9 428.8 L417.0 428.8 L417.5 429.7 L418.1 430.9 L418.7 432.3 L419.3 433.7 L419.9 435.0 L420.2 435.5 L420.5 435.8 L421.1 436.5 L421.7 437.1 L422.3 437.6 L422.9 438.1 L423.5 438.4 L423.5 438.4 L424.1 438.2 L424.7 437.8 L425.3 437.4 L425.9 436.9 L426.5 436.4 L426.7 436.2 L427.1 434.6 L427.7 431.4 L428.3 428.8 L428.3 428.8 L428.9 428.4 L429.5 428.0 L430.1 427.7 L430.7 427.4 L431.3 427.1 L431.9 426.9 L432.4 426.8 L432.5 426.8 L433.1 427.1 L433.7 427.4 L434.3 427.8 L434.9 428.3 L435.5 428.7 L436.1 429.2 L436.7 429.7 L437.3 430.3 L437.9 430.8 L438.1 431.0 L438.5 431.5 L439.1 432.4 L439.7 433.3 L440.3 434.2 L440.9 435.2 L441.5 436.3 L442.1 437.4 L442.7 438.5 L443.0 439.1 L443.3 440.1 L443.9 442.0 L444.5 444.0 L445.1 446.3 L445.7 448.8 L446.2 451.1 L446.3 452.0 L446.9 458.3 L447.5 465.6 L447.8 469.2 L448.1 473.4 L448.7 482.8 L449.3 492.3 L449.9 500.2 L450.3 503.8 L450.5 502.5 L451.1 497.2 L451.7 490.3 L452.3 482.5 L452.7 477.3 L452.9 473.5 L453.5 460.4 L454.1 447.8 L454.3 444.4 L454.7 441.1 L455.3 436.7 L455.9 433.1 L456.0 432.6 L456.5 431.7 L457.1 430.6 L457.7 429.7 L458.3 428.9 L458.9 428.2 L459.2 427.9 L459.5 427.7 L460.1 427.4 L460.7 427.1 L461.3 426.8 L461.9 426.6 L462.5 426.4 L463.1 426.2 L463.7 426.0 L464.1 425.9 L464.3 425.9 L464.9 426.1 L465.5 426.3 L466.1 426.5 L466.7 426.7 L467.3 426.9 L467.9 427.2 L468.5 427.4 L469.1 427.7 L469.7 428.0 L470.3 428.3 L470.6 428.4 L470.9 428.7 L471.5 429.2 L472.1 429.8 L472.7 430.5 L473.3 431.1 L473.9 431.9 L474.5 432.7 L474.6 432.8 L475.1 434.2 L475.7 436.1 L476.3 438.2 L476.9 440.6 L477.1 441.4 L477.5 444.2 L478.1 448.9 L478.7 454.1 L479.3 459.5 L479.5 461.3 L479.9 466.4 L480.5 475.2 L481.1 483.7 L481.7 490.4 L481.9 491.9 L482.3 489.2 L482.9 483.5 L483.5 476.6 L484.1 469.4 L484.4 466.2 L484.7 462.8 L485.3 455.6 L485.9 448.7 L486.5 443.0 L486.5 443.0 L487.1 440.6 L487.7 438.5 L488.3 436.6 L488.9 435.0 L489.2 434.2 L489.5 433.8 L490.1 432.9 L490.7 432.1 L491.3 431.4 L491.9 430.7 L492.5 430.2 L493.1 429.7 L493.3 429.6 L493.7 429.7 L494.3 429.9 L494.9 430.2 L495.5 430.5 L496.1 430.8 L496.7 431.1 L497.3 431.4 L497.9 431.8 L498.5 432.1 L499.1 432.3 L499.7 432.5 L500.0 432.6 L500.1 432.6 L501.5 432.0 L503.0 431.1 L504.5 430.0 L506.0 428.9 L507.2 428.1 L507.5 427.9 L509.0 427.2 L510.5 426.5 L512.0 425.7 L513.5 425.0 L515.0 424.4 L516.5 423.8 L517.3 423.5 L518.0 423.3 L519.5 422.9 L521.0 422.6 L522.5 422.3 L524.0 421.9 L525.5 421.7 L527.0 421.5 L527.4 421.4 L528.5 421.3 L530.0 421.3 L531.5 421.2 L533.0 421.2 L534.5 421.1 L536.0 421.1 L537.5 421.0 L539.0 421.0 L540.5 420.9 L542.0 420.9 L543.5 420.8 L543.7 420.8 L545.0 420.7 L546.5 420.7 L548.0 420.6 L549.5 420.5 L551.0 420.5 L552.5 420.4 L554.0 420.3 L555.5 420.3 L557.0 420.2 L558.5 420.1 L560.0 420.1 L561.5 420.1 L563.0 420.0 L563.9 420.0 L564.5 420.0 L566.0 420.0 L567.5 420.0 L569.0 420.0 L570.5 420.0 L572.0 420.0 L573.5 420.0 L575.0 420.0 L576.5 420.0 L578.0 420.0 L579.5 420.0 L581.0 420.0 L582.2 420.0 L582.5 420.0 L584.0 420.1 L585.5 420.3 L587.0 420.5 L588.5 420.8 L590.0 421.0 L591.5 421.3 L593.0 421.5 L594.5 421.7 L596.0 421.8 L596.4 421.8 L597.5 421.7 L599.0 421.6 L600.5 421.5 L602.0 421.3 L603.5 421.1 L605.0 420.9 L606.5 420.7 L608.0 420.4 L609.5 420.2 L611.0 420.0 L612.5 419.8 L614.0 419.6 L615.5 419.5 L616.7 419.4 L617.0 419.4 L618.5 419.3 L620.0 419.3 L621.5 419.3 L623.0 419.2 L624.5 419.2 L626.0 419.1 L627.5 419.1 L629.0 419.1 L630.5 419.1 L632.0 419.0 L633.5 419.0 L634.9 419.0 L635.0 419.0 L636.5 419.2 L638.0 419.6 L639.5 420.0 L641.0 420.3 L642.0 420.4 L642.5 420.4 L644.0 420.4 L645.5 420.3 L647.0 420.3 L648.5 420.3 L650.0 420.2 L651.5 420.2 L653.0 420.1 L654.5 420.0 L656.0 420.0 L657.5 419.9 L659.0 419.8 L660.5 419.8 L662.0 419.7 L663.5 419.6 L665.0 419.5 L666.5 419.4 L667.3 419.4 L668.0 419.3 L669.5 419.1 L671.0 418.8 L672.5 418.4 L674.0 418.1 L675.5 417.8 L677.0 417.5 L678.5 417.2 L680.0 417.0 L680.5 417.0 L681.5 417.5 L683.0 418.6 L683.6 418.8 L684.5 418.8 L686.0 418.7 L687.5 418.6 L689.0 418.5 L690.5 418.4 L692.0 418.3 L693.5 418.2 L695.0 418.1 L696.5 418.0 L697.8 418.0 L698.0 418.0 L699.5 418.1 L701.0 418.1 L702.5 418.2 L704.0 418.4 L705.5 418.5 L707.0 418.6 L708.5 418.7 L710.0 418.9 L711.5 419.0 L713.0 419.1 L714.5 419.2 L716.0 419.3 L717.5 419.4 L718.0 419.4 L719.0 419.4 L720.5 419.4 L722.0 419.4 L723.5 419.4 L725.0 419.4 L726.5 419.4 L728.0 419.5 L729.5 419.5 L731.0 419.5 L732.5 419.5 L734.0 419.5 L735.5 419.5 L737.0 419.5 L738.5 419.5 L740.0 419.5 L741.5 419.5 L743.0 419.5 L744.5 419.5 L746.0 419.5 L747.5 419.5 L749.0 419.5 L750.5 419.5 L752.0 419.5 L753.5 419.5 L755.0 419.5 L756.5 419.5 L758.0 419.5 L759.5 419.5 L761.0 419.5 L762.5 419.6 L764.0 419.6 L765.5 419.6 L767.0 419.6 L768.5 419.6 L770.0 419.6 L771.5 419.7 L773.0 419.8 L774.5 420.0 L776.0 420.2 L777.5 420.3 L779.0 420.4 L779.1 420.4 L780.5 420.3 L782.0 420.3 L783.5 420.2 L785.0 420.0 L786.5 419.9 L788.0 419.8 L789.5 419.6 L791.0 419.5 L792.5 419.3 L794.0 419.2 L795.5 419.1 L797.0 419.0 L798.5 418.9 L800.0 418.8 L800.4 418.8 L801.5 418.8 L803.0 418.9 L804.5 418.9 L806.0 419.0 L807.5 419.0 L809.0 419.1 L810.5 419.2 L812.0 419.2 L813.5 419.3 L815.0 419.4 L816.5 419.5 L818.0 419.6 L819.5 419.6 L821.0 419.7 L822.5 419.8 L824.0 419.8 L825.5 419.9 L827.0 419.9 L828.5 420.0 L829.8 420.0 L830.0 420.0 L831.5 420.0 L833.0 419.9 L834.5 419.8 L836.0 419.8 L837.5 419.7 L839.0 419.6 L840.5 419.5 L842.0 419.4 L843.5 419.3 L845.0 419.2 L846.5 419.2 L848.0 419.1 L849.5 419.0 L851.0 419.0 L851.1 419.0 L852.5 419.0 L854.0 419.0 L855.5 419.0 L857.0 419.0 L858.5 419.0 L860.0 419.0 L861.5 419.0 L863.0 419.0 L864.5 419.0 L866.0 419.0 L867.5 419.0 L869.0 419.0 L870.5 419.0 L872.0 419.0 L873.5 419.0 L875.0 419.0 L876.5 419.0 L878.0 419.0 L879.5 419.0 L881.0 419.0 L882.5 419.0 L884.0 419.0 L885.5 419.0 L887.0 419.0 L888.5 419.0 L890.0 419.0 L891.5 419.0 L893.0 419.0 L894.5 419.0 L896.0 419.0 L897.5 419.0 L899.0 419.0 L909.9 419.0 L920.0 420.0 L936.3 420.0 L944.4 421.4 L952.5 420.4 L976.8 420.0 L987.0 422.0 L993.0 424.9 L998.1 423.5 L1003.2 425.9 L1010.3 422.4 L1019.4 421.8 L1045.0 424.2 L1080.6 426.5 L1108.9 428.5 L1141.4 426.9 L1181.9 424.1 L1194.1 421.4 L1206.3 418.4 L1242.8 417.8 L1313.5 417.4" stroke="#A5A5A5"/>
<path d="M113.1 463.0 L113.1 393.6 L113.3 393.6 L113.9 394.0 L114.5 394.5 L115.1 394.9 L115.7 395.4 L116.3 395.8 L116.9 396.3 L117.5 396.8 L118.1 397.3 L118.7 397.8 L118.8 397.9 L119.3 398.4 L119.9 399.1 L120.5 399.7 L121.1 400.1 L121.2 400.2 L121.7 400.0 L122.3 399.6 L122.9 399.2 L123.5 398.8 L124.1 398.4 L124.7 398.1 L124.8 398.1 L125.3 398.8 L125.9 400.1 L126.5 401.6 L126.9 402.8 L127.1 404.3 L127.7 410.0 L128.3 416.6 L128.6 419.8 L128.9 423.5 L129.5 431.7 L130.1 439.9 L130.7 446.5 L131.0 448.8 L131.3 447.8 L131.9 444.9 L132.5 441.3 L133.1 437.2 L133.7 433.0 L134.2 429.7 L134.3 428.9 L134.9 424.4 L135.5 419.8 L136.1 414.9 L136.7 409.5 L136.7 409.5 L137.3 400.0 L137.9 389.9 L138.3 384.6 L138.5 383.8 L139.1 381.5 L139.7 379.6 L140.3 377.8 L140.9 376.2 L141.5 374.7 L142.1 373.2 L142.7 371.8 L143.3 370.4 L143.9 368.8 L144.0 368.5 L144.5 367.3 L145.1 365.7 L145.7 364.1 L146.3 362.6 L146.9 361.2 L147.5 360.0 L147.6 359.8 L148.1 359.3 L148.7 358.6 L149.3 358.1 L149.9 357.7 L150.2 357.5 L150.5 357.9 L151.1 358.9 L151.7 360.2 L152.3 361.7 L152.9 363.1 L152.9 363.1 L153.5 365.0 L154.1 367.2 L154.7 369.4 L155.3 371.4 L155.9 372.9 L156.2 373.5 L156.5 372.4 L157.1 369.2 L157.7 365.4 L158.3 361.9 L158.6 360.6 L158.9 360.2 L159.5 359.4 L160.1 358.7 L160.7 358.2 L161.0 358.0 L161.3 358.2 L161.9 358.8 L162.5 359.6 L163.1 360.5 L163.7 361.4 L164.3 362.3 L164.3 362.3 L164.9 363.2 L165.5 364.2 L166.1 365.2 L166.7 366.2 L167.3 367.2 L167.9 368.1 L168.5 369.0 L169.1 369.7 L169.2 369.8 L169.7 369.9 L170.3 370.1 L170.9 370.2 L171.5 370.3 L172.1 370.5 L172.7 370.6 L173.2 370.8 L173.3 371.0 L173.9 372.7 L174.5 374.9 L175.1 377.4 L175.7 380.0 L176.3 382.5 L176.5 383.3 L176.9 385.2 L177.5 388.1 L178.1 391.2 L178.7 394.1 L179.3 396.7 L179.7 398.2 L179.9 398.6 L180.5 399.7 L181.1 400.6 L181.3 400.8 L181.7 400.2 L182.3 398.7 L182.9 397.0 L183.5 395.4 L184.1 394.3 L184.1 394.3 L184.7 395.6 L185.3 397.4 L185.9 399.5 L186.5 401.5 L187.1 403.0 L187.3 403.3 L187.7 402.2 L188.3 399.9 L188.9 396.8 L189.5 392.9 L189.5 392.9 L190.1 371.9 L190.3 366.7 L190.7 366.3 L191.3 365.9 L191.9 365.6 L192.5 365.4 L193.1 365.2 L193.7 364.9 L194.3 364.5 L194.3 364.5 L194.9 362.3 L195.5 359.3 L196.1 356.0 L196.7 352.9 L197.3 350.2 L197.6 349.2 L197.9 348.9 L198.5 348.3 L199.1 347.8 L199.7 347.4 L200.3 347.0 L200.8 346.8 L200.9 346.8 L201.5 346.8 L202.1 346.8 L202.7 346.9 L203.3 346.9 L203.9 346.9 L204.5 346.9 L205.1 346.9 L205.7 347.0 L206.3 347.0 L206.5 347.0 L206.9 347.2 L207.5 347.6 L208.1 348.0 L208.7 348.5 L209.3 349.1 L209.9 349.7 L210.5 350.3 L210.6 350.4 L211.1 351.5 L211.7 353.2 L212.3 355.1 L212.9 356.8 L213.5 358.1 L213.8 358.6 L214.1 358.3 L214.7 357.6 L215.3 356.6 L215.9 355.7 L216.5 354.8 L217.1 354.2 L217.1 354.2 L217.7 354.8 L218.3 355.5 L218.9 356.4 L219.5 357.4 L220.1 358.5 L220.7 359.6 L221.1 360.3 L221.3 360.8 L221.9 362.4 L222.5 364.1 L223.1 365.9 L223.7 367.8 L224.3 369.8 L224.9 371.9 L225.2 372.9 L225.5 374.6 L226.1 378.6 L226.7 382.8 L227.3 386.2 L227.6 387.3 L227.9 386.4 L228.5 383.8 L229.1 380.4 L229.7 376.7 L230.3 373.0 L230.9 369.7 L231.5 367.3 L231.7 366.7 L232.1 366.9 L232.7 367.2 L233.3 367.7 L233.9 368.2 L234.1 368.4 L234.5 369.7 L235.1 372.2 L235.7 375.1 L236.3 378.1 L236.9 380.7 L237.4 382.4 L237.5 382.5 L238.1 383.1 L238.7 383.6 L239.3 384.0 L239.9 384.3 L240.3 384.5 L240.5 384.1 L241.1 382.7 L241.7 380.6 L242.3 378.2 L242.3 378.2 L242.9 368.4 L243.5 356.2 L244.0 348.0 L244.1 347.4 L244.7 344.1 L245.3 341.5 L245.6 340.5 L245.9 340.4 L246.5 340.1 L247.1 339.8 L247.7 339.6 L248.3 339.4 L248.9 339.2 L249.5 339.1 L249.6 339.1 L250.1 339.1 L250.7 339.1 L251.3 339.1 L251.9 339.1 L252.5 339.1 L253.1 339.1 L253.7 339.1 L254.3 339.1 L254.9 339.1 L255.5 339.1 L256.1 339.1 L256.7 339.1 L257.3 339.2 L257.9 339.2 L258.5 339.2 L259.1 339.2 L259.7 339.2 L260.3 339.2 L260.9 339.2 L261.0 339.2 L261.5 339.4 L262.1 339.6 L262.7 339.9 L263.3 340.2 L263.9 340.6 L264.5 340.9 L265.1 341.2 L265.7 341.5 L265.9 341.6 L266.3 341.6 L266.9 341.7 L267.5 341.8 L268.1 341.9 L268.7 342.0 L269.3 342.1 L269.9 342.2 L270.5 342.3 L271.1 342.3 L271.7 342.4 L272.3 342.4 L272.4 342.5 L272.9 342.4 L273.5 342.4 L274.1 342.3 L274.7 342.3 L275.3 342.2 L275.9 342.1 L276.5 342.1 L277.1 342.0 L277.7 341.9 L278.3 341.9 L278.9 341.8 L279.5 341.8 L279.7 341.8 L280.1 342.0 L280.7 342.4 L281.3 343.0 L281.9 343.6 L282.5 344.2 L283.1 345.0 L283.7 345.8 L283.7 345.8 L284.3 349.2 L284.9 353.6 L285.5 357.9 L285.7 359.1 L286.1 361.0 L286.7 364.0 L287.3 366.5 L287.8 367.9 L287.9 367.7 L288.5 365.4 L289.1 362.3 L289.4 360.7 L289.7 357.9 L290.3 351.4 L290.7 348.2 L290.9 348.0 L291.5 347.5 L292.1 347.0 L292.7 346.7 L293.3 346.4 L293.9 346.1 L294.3 346.0 L294.5 346.0 L295.1 346.2 L295.7 346.3 L296.3 346.5 L296.9 346.7 L297.5 346.9 L298.1 347.2 L298.7 347.4 L299.3 347.7 L299.9 348.0 L300.0 348.0 L300.5 348.6 L301.1 349.3 L301.7 350.1 L302.3 351.1 L302.9 352.0 L303.5 353.1 L304.0 354.1 L304.1 354.4 L304.7 356.8 L305.3 359.6 L305.9 362.6 L306.5 365.8 L306.5 365.8 L307.1 370.9 L307.7 376.4 L308.3 380.7 L308.4 381.1 L308.9 379.4 L309.5 376.4 L310.1 373.0 L310.5 371.0 L310.7 370.1 L311.3 367.3 L311.9 365.0 L312.1 364.5 L312.5 365.2 L313.1 366.6 L313.7 368.5 L314.3 370.5 L314.6 371.6 L314.9 374.1 L315.5 380.0 L316.1 386.7 L316.7 393.5 L317.0 396.6 L317.3 399.5 L317.9 405.7 L318.5 411.8 L319.1 417.2 L319.7 421.1 L319.8 421.6 L320.3 418.8 L320.9 414.2 L321.5 408.6 L322.1 402.5 L322.7 396.6 L322.7 396.6 L323.3 388.7 L323.9 380.0 L324.5 371.7 L325.1 365.1 L325.1 365.1 L325.7 362.9 L326.3 361.1 L326.9 359.7 L327.1 359.4 L327.5 360.3 L328.1 362.2 L328.7 364.6 L329.2 366.8 L329.3 367.8 L329.9 375.1 L330.5 383.8 L331.1 392.9 L331.6 400.0 L331.7 401.2 L332.3 409.1 L332.9 417.3 L333.5 425.0 L334.1 431.4 L334.6 435.2 L334.7 434.6 L335.3 430.0 L335.9 423.6 L336.5 416.3 L337.0 410.1 L337.1 408.4 L337.7 395.7 L338.3 383.3 L338.6 378.9 L338.9 378.3 L339.5 377.2 L340.1 376.4 L340.7 375.6 L341.3 374.9 L341.9 374.0 L342.2 373.4 L342.5 372.1 L343.1 369.1 L343.7 365.5 L344.3 361.8 L344.9 358.0 L345.5 354.4 L346.1 351.1 L346.3 350.1 L346.7 348.8 L347.3 346.7 L347.9 344.9 L348.5 343.3 L349.0 342.4 L349.1 342.5 L349.7 343.8 L350.3 345.6 L350.9 347.5 L351.5 349.2 L351.9 350.0 L352.1 350.2 L352.7 350.5 L353.3 350.8 L353.9 351.0 L354.5 351.3 L355.1 351.6 L355.7 351.9 L356.0 352.1 L356.3 352.9 L356.9 354.7 L357.5 357.0 L358.1 359.5 L358.4 360.8 L358.7 363.1 L359.3 368.4 L359.9 374.3 L360.5 380.5 L361.1 386.7 L361.7 392.4 L361.7 392.4 L362.3 397.6 L362.9 403.0 L363.5 408.4 L364.1 413.3 L364.7 417.6 L365.3 420.8 L365.4 421.2 L365.9 420.0 L366.5 418.1 L367.1 415.7 L367.7 413.1 L368.3 410.3 L368.6 408.9 L368.9 406.5 L369.5 401.2 L370.1 395.2 L370.7 389.1 L371.3 383.2 L371.5 381.4 L371.9 377.9 L372.5 372.5 L373.1 367.1 L373.7 362.0 L374.3 357.6 L374.7 355.1 L374.9 354.6 L375.5 353.1 L376.1 351.7 L376.7 350.5 L377.3 349.6 L377.7 349.1 L377.9 349.5 L378.5 351.1 L379.1 353.2 L379.7 355.5 L380.3 357.9 L380.4 358.3 L380.9 360.6 L381.5 363.7 L382.1 366.9 L382.7 370.1 L383.3 372.9 L383.7 374.6 L383.9 375.2 L384.5 376.7 L385.1 378.2 L385.7 379.5 L386.3 380.4 L386.4 380.5 L386.9 379.0 L387.5 376.4 L388.1 373.4 L388.6 371.0 L388.7 370.5 L389.3 367.2 L389.9 364.2 L390.2 363.2 L390.5 363.7 L391.1 365.2 L391.7 367.0 L392.3 368.8 L392.6 369.6 L392.9 370.2 L393.5 371.6 L394.1 372.8 L394.6 373.5 L394.7 373.4 L395.3 372.3 L395.9 370.8 L396.5 369.0 L396.7 368.4 L397.1 365.7 L397.7 360.7 L398.3 355.2 L398.9 350.2 L399.1 348.7 L399.5 346.7 L400.1 343.7 L400.7 340.9 L401.3 338.6 L401.5 338.0 L401.9 337.5 L402.5 336.9 L403.1 336.3 L403.7 335.8 L404.3 335.5 L404.8 335.2 L404.9 335.2 L405.5 335.2 L406.1 335.3 L406.7 335.3 L407.3 335.3 L407.9 335.4 L408.5 335.4 L409.1 335.4 L409.7 335.5 L410.3 335.5 L410.9 335.6 L411.5 335.7 L412.1 335.7 L412.1 335.7 L412.7 335.9 L413.3 336.1 L413.9 336.3 L414.5 336.6 L415.1 336.9 L415.7 337.2 L416.3 337.5 L416.9 337.8 L417.0 337.9 L417.5 338.7 L418.1 340.0 L418.7 341.3 L419.3 342.7 L419.9 343.9 L420.2 344.4 L420.5 344.8 L421.1 345.4 L421.7 345.9 L422.3 346.5 L422.9 346.9 L423.5 347.2 L423.5 347.2 L424.1 347.0 L424.7 346.6 L425.3 346.2 L425.9 345.7 L426.5 345.2 L426.7 345.0 L427.1 343.4 L427.7 340.2 L428.3 337.6 L428.3 337.6 L428.9 337.2 L429.5 336.8 L430.1 336.5 L430.7 336.2 L431.3 335.9 L431.9 335.7 L432.4 335.6 L432.5 335.6 L433.1 335.9 L433.7 336.2 L434.3 336.5 L434.9 336.9 L435.5 337.3 L436.1 337.8 L436.7 338.3 L437.3 338.8 L437.9 339.2 L438.1 339.4 L438.5 339.9 L439.1 340.7 L439.7 341.6 L440.3 342.5 L440.9 343.5 L441.5 344.5 L442.1 345.5 L442.7 346.6 L443.0 347.2 L443.3 348.1 L443.9 350.0 L444.5 352.0 L445.1 354.2 L445.7 356.7 L446.2 359.0 L446.3 359.8 L446.9 366.1 L447.5 373.3 L447.8 376.9 L448.1 381.1 L448.7 390.5 L449.3 399.9 L449.9 407.8 L450.3 411.4 L450.5 410.2 L451.1 404.9 L451.7 398.1 L452.3 390.4 L452.7 385.2 L452.9 381.5 L453.5 368.5 L454.1 355.9 L454.3 352.6 L454.7 349.3 L455.3 345.0 L455.9 341.5 L456.0 341.0 L456.5 340.2 L457.1 339.2 L457.7 338.4 L458.3 337.7 L458.9 337.1 L459.2 336.8 L459.5 336.7 L460.1 336.5 L460.7 336.3 L461.3 336.1 L461.9 335.9 L462.5 335.8 L463.1 335.7 L463.7 335.6 L464.1 335.5 L464.3 335.5 L464.9 335.7 L465.5 335.8 L466.1 336.0 L466.7 336.2 L467.3 336.4 L467.9 336.6 L468.5 336.9 L469.1 337.2 L469.7 337.4 L470.3 337.7 L470.6 337.8 L470.9 338.1 L471.5 338.6 L472.1 339.2 L472.7 339.8 L473.3 340.4 L473.9 341.1 L474.5 341.9 L474.6 342.1 L475.1 343.4 L475.7 345.3 L476.3 347.4 L476.9 349.7 L477.1 350.5 L477.5 353.3 L478.1 358.0 L478.7 363.2 L479.3 368.6 L479.5 370.4 L479.9 375.5 L480.5 384.2 L481.1 392.8 L481.7 399.4 L481.9 400.9 L482.3 398.3 L482.9 392.6 L483.5 385.8 L484.1 378.8 L484.4 375.6 L484.7 372.3 L485.3 365.2 L485.9 358.4 L486.5 352.8 L486.5 352.8 L487.1 350.5 L487.7 348.5 L488.3 346.8 L488.9 345.2 L489.2 344.5 L489.5 344.1 L490.1 343.4 L490.7 342.7 L491.3 342.1 L491.9 341.5 L492.5 341.1 L493.1 340.7 L493.3 340.6 L493.7 340.7 L494.3 340.8 L494.9 341.0 L495.5 341.2 L496.1 341.4 L496.7 341.7 L497.3 341.9 L497.9 342.2 L498.5 342.4 L499.1 342.6 L499.7 342.8 L500.0 342.9 L500.7 343.0 L501.5 342.8 L503.0 342.4 L504.5 341.8 L506.0 341.1 L507.2 340.6 L507.5 340.4 L509.0 339.6 L510.5 338.7 L512.0 337.7 L513.5 336.7 L515.0 335.8 L516.5 334.9 L517.3 334.5 L518.0 334.2 L519.5 333.7 L521.0 333.1 L522.5 332.6 L524.0 332.1 L525.5 331.7 L527.0 331.5 L527.4 331.4 L528.5 331.4 L530.0 331.6 L531.5 331.7 L533.0 331.8 L534.5 332.0 L535.6 332.0 L536.0 332.0 L537.5 331.7 L539.0 331.2 L540.5 330.8 L542.0 330.3 L543.5 330.0 L543.7 330.0 L545.0 329.9 L546.5 329.9 L548.0 329.8 L549.5 329.8 L551.0 329.7 L552.5 329.6 L554.0 329.6 L555.5 329.6 L557.0 329.5 L558.5 329.5 L560.0 329.5 L561.5 329.4 L563.0 329.4 L563.9 329.4 L564.5 329.4 L566.0 329.4 L567.5 329.4 L569.0 329.4 L570.5 329.4 L572.0 329.4 L573.5 329.4 L575.0 329.4 L576.5 329.4 L578.0 329.4 L579.5 329.4 L581.0 329.4 L582.2 329.4 L582.5 329.4 L584.0 329.5 L585.5 329.7 L587.0 329.9 L588.5 330.1 L590.0 330.3 L591.5 330.5 L593.0 330.7 L594.5 330.9 L596.0 331.0 L596.4 331.0 L597.5 330.9 L599.0 330.8 L600.5 330.7 L602.0 330.6 L603.5 330.4 L605.0 330.2 L606.5 330.0 L608.0 329.8 L609.5 329.7 L611.0 329.5 L612.5 329.3 L614.0 329.2 L615.5 329.1 L616.7 329.0 L617.0 329.0 L618.5 329.0 L620.0 328.9 L621.5 328.9 L623.0 328.9 L624.5 328.9 L626.0 328.9 L627.5 328.9 L629.0 328.8 L630.5 328.8 L632.0 328.8 L633.5 328.8 L634.9 328.8 L635.0 328.8 L636.5 329.1 L638.0 329.5 L639.5 329.9 L641.0 330.3 L642.0 330.4 L642.5 330.4 L644.0 330.3 L645.5 330.3 L647.0 330.2 L648.5 330.2 L650.0 330.1 L651.5 330.0 L653.0 330.0 L654.5 329.9 L656.0 329.8 L657.5 329.7 L659.0 329.6 L660.5 329.5 L662.0 329.4 L663.5 329.3 L665.0 329.2 L666.5 329.1 L667.3 329.0 L668.0 328.9 L669.5 328.7 L671.0 328.4 L672.5 328.2 L674.0 327.9 L675.5 327.6 L677.0 327.4 L678.5 327.2 L680.0 327.0 L680.5 327.0 L681.5 327.4 L683.0 328.2 L683.6 328.4 L684.5 328.4 L686.0 328.3 L687.5 328.3 L689.0 328.2 L690.5 328.1 L692.0 328.0 L693.5 328.0 L695.0 327.9 L696.5 327.8 L697.8 327.8 L698.0 327.8 L699.5 327.8 L701.0 327.9 L702.5 328.0 L704.0 328.1 L705.5 328.1 L707.0 328.2 L708.5 328.3 L710.0 328.4 L711.5 328.5 L713.0 328.6 L714.5 328.7 L716.0 328.7 L717.5 328.8 L718.0 328.8 L719.0 328.8 L720.5 328.8 L722.0 328.8 L723.5 328.8 L725.0 328.8 L726.5 328.8 L728.0 328.9 L729.5 328.9 L731.0 328.9 L732.5 328.9 L734.0 328.9 L735.5 328.9 L737.0 328.9 L738.5 328.9 L740.0 328.9 L741.5 328.9 L743.0 328.9 L744.5 328.9 L746.0 328.9 L747.5 328.9 L749.0 328.9 L750.5 328.9 L752.0 328.9 L753.5 328.9 L755.0 328.9 L756.5 328.9 L758.0 328.9 L759.5 328.9 L761.0 329.0 L762.5 329.0 L764.0 329.0 L765.5 329.0 L767.0 329.0 L768.5 329.0 L770.0 329.0 L771.5 329.0 L773.0 329.1 L774.5 329.2 L776.0 329.3 L777.5 329.4 L779.0 329.4 L779.1 329.4 L780.5 329.4 L782.0 329.3 L783.5 329.2 L785.0 329.1 L786.5 329.0 L788.0 328.8 L789.5 328.7 L791.0 328.6 L792.5 328.5 L794.0 328.4 L795.5 328.2 L797.0 328.1 L798.5 328.1 L800.0 328.0 L800.4 328.0 L801.5 328.0 L803.0 328.0 L804.5 328.1 L806.0 328.1 L807.5 328.2 L809.0 328.2 L810.5 328.3 L812.0 328.4 L813.5 328.4 L815.0 328.5 L816.5 328.6 L818.0 328.6 L819.5 328.7 L821.0 328.8 L822.5 328.8 L824.0 328.9 L825.5 328.9 L827.0 328.9 L828.5 329.0 L829.8 329.0 L830.0 329.0 L831.5 329.0 L833.0 328.9 L834.5 328.9 L836.0 328.9 L837.5 328.8 L839.0 328.8 L840.5 328.7 L842.0 328.6 L843.5 328.6 L845.0 328.5 L846.5 328.5 L848.0 328.5 L849.5 328.4 L851.0 328.4 L851.1 328.4 L852.5 328.4 L854.0 328.4 L855.5 328.4 L857.0 328.4 L858.5 328.4 L860.0 328.4 L861.5 328.4 L863.0 328.4 L864.5 328.4 L866.0 328.4 L867.5 328.4 L869.0 328.4 L870.5 328.4 L872.0 328.4 L873.5 328.4 L875.0 328.4 L876.5 328.4 L878.0 328.4 L879.5 328.4 L881.0 328.4 L882.5 328.4 L884.0 328.4 L885.5 328.4 L887.0 328.4 L888.5 328.4 L890.0 328.4 L891.5 328.4 L893.0 328.4 L894.5 328.4 L896.0 328.4 L897.5 328.4 L899.0 328.4 L909.9 328.4 L920.0 330.0 L934.2 329.8 L944.4 331.8 L952.5 330.8 L976.8 330.4 L987.0 332.4 L993.0 335.5 L998.1 334.5 L1003.2 336.5 L1010.3 333.5 L1019.4 333.5 L1045.0 336.8 L1080.6 340.6 L1111.0 342.6 L1141.4 339.5 L1181.9 334.9 L1194.1 331.4 L1206.3 328.0 L1242.8 327.0 L1313.5 327.0" stroke="#FFC000"/>
<path d="M113.1 372.6 L113.1 290.2 L113.3 290.2 L113.9 290.6 L114.5 291.1 L115.1 291.5 L115.7 292.0 L116.3 292.4 L116.9 292.9 L117.5 293.4 L118.1 293.8 L118.7 294.3 L118.8 294.4 L119.3 294.9 L119.9 295.6 L120.5 296.2 L121.1 296.6 L121.2 296.7 L121.7 296.5 L122.3 296.1 L122.9 295.6 L123.5 295.2 L124.1 294.7 L124.7 294.4 L124.8 294.4 L125.3 295.9 L125.9 298.5 L126.5 301.7 L126.9 303.9 L127.1 305.9 L127.7 313.0 L128.3 321.0 L128.6 324.9 L128.9 329.3 L129.5 339.1 L130.1 348.9 L130.7 356.7 L131.0 359.4 L131.3 358.2 L131.9 354.9 L132.5 350.7 L133.1 345.9 L133.7 341.1 L134.2 337.2 L134.3 336.4 L134.9 331.3 L135.5 326.1 L136.1 320.6 L136.7 314.6 L136.7 314.6 L137.3 304.5 L137.9 293.8 L138.3 288.2 L138.5 287.3 L139.1 284.7 L139.7 282.4 L140.3 280.4 L140.9 278.5 L141.5 276.8 L142.1 275.1 L142.7 273.5 L143.3 271.8 L143.9 270.0 L144.0 269.6 L144.5 268.2 L145.1 266.3 L145.7 264.5 L146.3 262.7 L146.9 261.1 L147.5 259.6 L147.6 259.3 L148.1 258.5 L148.7 257.6 L149.3 256.8 L149.9 256.1 L150.2 255.9 L150.5 256.3 L151.1 257.6 L151.7 259.2 L152.3 260.9 L152.9 262.6 L152.9 262.6 L153.5 264.8 L154.1 267.3 L154.7 269.7 L155.3 272.0 L155.9 273.8 L156.2 274.4 L156.5 273.2 L157.1 269.6 L157.7 265.3 L158.3 261.3 L158.6 259.8 L158.9 259.1 L159.5 257.8 L160.1 256.6 L160.7 255.7 L161.0 255.4 L161.3 255.6 L161.9 256.3 L162.5 257.1 L163.1 258.0 L163.7 258.9 L164.3 259.8 L164.3 259.8 L164.9 260.8 L165.5 261.8 L166.1 262.8 L166.7 263.9 L167.3 264.9 L167.9 265.9 L168.5 266.7 L169.1 267.5 L169.2 267.6 L169.7 267.8 L170.3 267.9 L170.9 268.1 L171.5 268.2 L172.1 268.4 L172.7 268.6 L173.2 268.8 L173.3 269.1 L173.9 271.1 L174.5 273.8 L175.1 276.8 L175.7 280.0 L176.3 283.1 L176.5 284.1 L176.9 286.3 L177.5 289.8 L178.1 293.3 L178.7 296.7 L179.3 299.9 L179.7 301.8 L179.9 302.4 L180.5 304.1 L181.1 305.4 L181.3 305.7 L181.7 305.1 L182.3 303.7 L182.9 302.0 L183.5 300.5 L184.1 299.5 L184.1 299.5 L184.7 300.8 L185.3 302.8 L185.9 305.0 L186.5 307.1 L187.1 308.6 L187.3 309.0 L187.7 307.6 L188.3 304.6 L188.9 300.7 L189.5 295.9 L189.5 295.9 L190.1 274.1 L190.3 268.7 L190.7 268.2 L191.3 267.6 L191.9 267.2 L192.5 266.9 L193.1 266.5 L193.7 266.1 L194.3 265.6 L194.3 265.6 L194.9 263.2 L195.5 260.2 L196.1 256.8 L196.7 253.5 L197.3 250.7 L197.6 249.6 L197.9 249.2 L198.5 248.5 L199.1 247.8 L199.7 247.3 L200.3 246.8 L200.8 246.5 L200.9 246.5 L201.5 246.5 L202.1 246.4 L202.7 246.4 L203.3 246.4 L203.9 246.4 L204.5 246.4 L205.1 246.4 L205.7 246.3 L206.3 246.3 L206.5 246.3 L206.9 246.5 L207.5 246.9 L208.1 247.4 L208.7 247.9 L209.3 248.5 L209.9 249.1 L210.5 249.8 L210.6 249.9 L211.1 251.1 L211.7 252.8 L212.3 254.6 L212.9 256.4 L213.5 257.7 L213.8 258.2 L214.1 258.0 L214.7 257.3 L215.3 256.4 L215.9 255.5 L216.5 254.7 L217.1 254.1 L217.1 254.1 L217.7 254.8 L218.3 255.8 L218.9 257.0 L219.5 258.3 L220.1 259.6 L220.7 261.0 L221.1 261.9 L221.3 262.5 L221.9 264.4 L222.5 266.4 L223.1 268.4 L223.7 270.5 L224.3 272.8 L224.9 275.1 L225.2 276.3 L225.5 278.1 L226.1 282.4 L226.7 286.9 L227.3 290.5 L227.6 291.7 L227.9 290.7 L228.5 287.8 L229.1 284.0 L229.7 279.8 L230.3 275.7 L230.9 272.1 L231.5 269.3 L231.7 268.7 L232.1 268.9 L232.7 269.5 L233.3 270.1 L233.9 270.9 L234.1 271.1 L234.5 272.6 L235.1 275.3 L235.7 278.4 L236.3 281.5 L236.9 284.3 L237.4 286.2 L237.5 286.3 L238.1 287.1 L238.7 287.8 L239.3 288.5 L239.9 289.0 L240.3 289.2 L240.5 288.8 L241.1 287.1 L241.7 284.8 L242.3 282.0 L242.3 282.0 L242.9 271.9 L243.5 259.5 L244.0 251.1 L244.1 250.4 L244.7 246.9 L245.3 244.0 L245.6 242.9 L245.9 242.6 L246.5 241.9 L247.1 241.3 L247.7 240.8 L248.3 240.4 L248.9 240.0 L249.5 239.7 L249.6 239.7 L250.1 239.7 L250.7 239.7 L251.3 239.7 L251.9 239.7 L252.5 239.7 L253.1 239.8 L253.7 239.8 L254.3 239.8 L254.9 239.8 L255.5 239.8 L256.1 239.8 L256.7 239.8 L257.3 239.9 L257.9 239.9 L258.5 239.9 L259.1 239.9 L259.7 239.9 L260.3 240.0 L260.9 240.0 L261.0 240.0 L261.5 240.2 L262.1 240.4 L262.7 240.7 L263.3 241.0 L263.9 241.4 L264.5 241.7 L265.1 242.0 L265.7 242.3 L265.9 242.3 L266.3 242.4 L266.9 242.5 L267.5 242.6 L268.1 242.7 L268.7 242.8 L269.3 242.9 L269.9 242.9 L270.5 243.0 L271.1 243.1 L271.7 243.1 L272.3 243.2 L272.4 243.2 L272.9 243.2 L273.5 243.1 L274.1 243.1 L274.7 243.0 L275.3 242.9 L275.9 242.9 L276.5 242.8 L277.1 242.7 L277.7 242.7 L278.3 242.6 L278.9 242.5 L279.5 242.5 L279.7 242.5 L280.1 242.8 L280.7 243.3 L281.3 244.0 L281.9 244.7 L282.5 245.6 L283.1 246.5 L283.7 247.6 L283.7 247.6 L284.3 251.1 L284.9 255.6 L285.5 260.1 L285.7 261.4 L286.1 263.4 L286.7 266.5 L287.3 269.2 L287.8 270.7 L287.9 270.4 L288.5 268.1 L289.1 264.8 L289.4 263.1 L289.7 260.2 L290.3 253.6 L290.7 250.3 L290.9 250.0 L291.5 249.3 L292.1 248.7 L292.7 248.2 L293.3 247.7 L293.9 247.4 L294.3 247.2 L294.5 247.2 L295.1 247.3 L295.7 247.5 L296.3 247.6 L296.9 247.8 L297.5 248.0 L298.1 248.2 L298.7 248.5 L299.3 248.7 L299.9 249.0 L300.0 249.0 L300.5 249.6 L301.1 250.5 L301.7 251.5 L302.3 252.5 L302.9 253.7 L303.5 255.0 L304.0 256.1 L304.1 256.5 L304.7 259.0 L305.3 261.9 L305.9 265.1 L306.5 268.4 L306.5 268.4 L307.1 273.6 L307.7 279.4 L308.3 283.7 L308.4 284.2 L308.9 282.3 L309.5 278.9 L310.1 275.2 L310.5 272.9 L310.7 271.9 L311.3 268.7 L311.9 266.1 L312.1 265.5 L312.5 266.4 L313.1 268.4 L313.7 270.8 L314.3 273.5 L314.6 274.9 L314.9 277.6 L315.5 284.2 L316.1 291.4 L316.7 298.7 L317.0 302.1 L317.3 305.2 L317.9 312.0 L318.5 318.8 L319.1 324.7 L319.7 329.1 L319.8 329.6 L320.3 326.6 L320.9 321.6 L321.5 315.6 L322.1 309.1 L322.7 302.7 L322.7 302.7 L323.3 294.4 L323.9 285.3 L324.5 276.7 L325.1 269.7 L325.1 269.7 L325.7 267.1 L326.3 264.8 L326.9 263.1 L327.1 262.7 L327.5 263.8 L328.1 266.1 L328.7 269.0 L329.2 271.7 L329.3 272.8 L329.9 280.6 L330.5 289.7 L331.1 299.2 L331.6 306.7 L331.7 308.0 L332.3 316.4 L332.9 325.1 L333.5 333.3 L334.1 340.2 L334.6 344.2 L334.7 343.6 L335.3 338.7 L335.9 331.9 L336.5 324.2 L337.0 317.7 L337.1 315.9 L337.7 302.8 L338.3 290.1 L338.6 285.5 L338.9 284.7 L339.5 283.4 L340.1 282.4 L340.7 281.5 L341.3 280.6 L341.9 279.5 L342.2 278.9 L342.5 277.5 L343.1 274.4 L343.7 270.8 L344.3 267.1 L344.9 263.3 L345.5 259.7 L346.1 256.4 L346.3 255.4 L346.7 254.0 L347.3 252.0 L347.9 250.1 L348.5 248.5 L349.0 247.6 L349.1 247.7 L349.7 248.8 L350.3 250.3 L350.9 251.9 L351.5 253.3 L351.9 253.9 L352.1 253.9 L352.7 254.0 L353.3 254.0 L353.9 254.0 L354.5 254.0 L355.1 254.0 L355.7 254.1 L356.0 254.1 L356.3 254.9 L356.9 257.0 L357.5 259.7 L358.1 262.7 L358.4 264.2 L358.7 266.8 L359.3 272.5 L359.9 278.8 L360.5 285.3 L361.1 291.8 L361.7 298.0 L361.7 298.0 L362.3 303.5 L362.9 309.4 L363.5 315.1 L364.1 320.5 L364.7 325.1 L365.3 328.6 L365.4 329.0 L365.9 327.8 L366.5 325.7 L367.1 323.2 L367.7 320.5 L368.3 317.5 L368.6 316.1 L368.9 313.6 L369.5 308.1 L370.1 302.1 L370.7 295.9 L371.3 289.8 L371.5 287.9 L371.9 284.3 L372.5 278.8 L373.1 273.3 L373.7 268.2 L374.3 263.6 L374.7 261.0 L374.9 260.4 L375.5 258.8 L376.1 257.3 L376.7 256.0 L377.3 254.9 L377.7 254.4 L377.9 254.8 L378.5 256.4 L379.1 258.6 L379.7 261.0 L380.3 263.4 L380.4 263.8 L380.9 266.2 L381.5 269.4 L382.1 272.6 L382.7 275.8 L383.3 278.8 L383.7 280.5 L383.9 281.0 L384.5 282.7 L385.1 284.2 L385.7 285.5 L386.3 286.5 L386.4 286.6 L386.9 285.1 L387.5 282.4 L388.1 279.4 L388.6 277.0 L388.7 276.5 L389.3 273.2 L389.9 270.2 L390.2 269.2 L390.5 269.7 L391.1 271.1 L391.7 272.9 L392.3 274.7 L392.6 275.5 L392.9 276.1 L393.5 277.4 L394.1 278.6 L394.6 279.3 L394.7 279.2 L395.3 278.0 L395.9 276.5 L396.5 274.6 L396.7 274.0 L397.1 271.2 L397.7 266.1 L398.3 260.6 L398.9 255.5 L399.1 254.0 L399.5 251.9 L400.1 248.9 L400.7 246.1 L401.3 243.7 L401.5 243.0 L401.9 242.5 L402.5 241.8 L403.1 241.2 L403.7 240.6 L404.3 240.2 L404.8 239.9 L404.9 239.9 L405.5 239.9 L406.1 239.9 L406.7 240.0 L407.3 240.0 L407.9 240.0 L408.5 240.1 L409.1 240.1 L409.7 240.1 L410.3 240.2 L410.9 240.2 L411.5 240.3 L412.1 240.3 L412.1 240.3 L412.7 240.5 L413.3 240.7 L413.9 240.9 L414.5 241.1 L415.1 241.4 L415.7 241.7 L416.3 242.0 L416.9 242.3 L417.0 242.4 L417.5 243.2 L418.1 244.4 L418.7 245.8 L419.3 247.2 L419.9 248.4 L420.2 248.9 L420.5 249.2 L421.1 249.8 L421.7 250.4 L422.3 250.9 L422.9 251.3 L423.5 251.6 L423.5 251.6 L424.1 251.4 L424.7 251.0 L425.3 250.6 L425.9 250.1 L426.5 249.6 L426.7 249.4 L427.1 247.8 L427.7 244.6 L428.3 242.0 L428.3 242.0 L428.9 241.6 L429.5 241.2 L430.1 240.9 L430.7 240.6 L431.3 240.3 L431.9 240.1 L432.4 240.0 L432.5 240.0 L433.1 240.3 L433.7 240.7 L434.3 241.1 L434.9 241.6 L435.5 242.1 L436.1 242.7 L436.7 243.2 L437.3 243.8 L437.9 244.4 L438.1 244.6 L438.5 245.2 L439.1 246.1 L439.7 247.0 L440.3 248.0 L440.9 249.1 L441.5 250.1 L442.1 251.3 L442.7 252.5 L443.0 253.1 L443.3 254.1 L443.9 256.0 L444.5 258.1 L445.1 260.4 L445.7 262.9 L446.2 265.3 L446.3 266.2 L446.9 272.6 L447.5 279.8 L447.8 283.5 L448.1 287.7 L448.7 297.2 L449.3 306.7 L449.9 314.7 L450.3 318.3 L450.5 317.0 L451.1 311.7 L451.7 304.7 L452.3 296.9 L452.7 291.7 L452.9 287.9 L453.5 274.8 L454.1 262.2 L454.3 258.8 L454.7 255.4 L455.3 251.0 L455.9 247.4 L456.0 246.9 L456.5 245.9 L457.1 244.9 L457.7 244.0 L458.3 243.1 L458.9 242.4 L459.2 242.1 L459.5 241.9 L460.1 241.6 L460.7 241.2 L461.3 240.9 L461.9 240.7 L462.5 240.4 L463.1 240.2 L463.7 240.0 L464.1 239.9 L464.3 239.9 L464.9 240.1 L465.5 240.3 L466.1 240.5 L466.7 240.7 L467.3 241.0 L467.9 241.3 L468.5 241.5 L469.1 241.8 L469.7 242.2 L470.3 242.5 L470.6 242.6 L470.9 242.9 L471.5 243.4 L472.1 244.0 L472.7 244.7 L473.3 245.4 L473.9 246.1 L474.5 247.0 L474.6 247.1 L475.1 248.5 L475.7 250.4 L476.3 252.6 L476.9 254.9 L477.1 255.7 L477.5 258.6 L478.1 263.3 L478.7 268.5 L479.3 273.9 L479.5 275.8 L479.9 280.9 L480.5 289.6 L481.1 298.2 L481.7 304.9 L481.9 306.4 L482.3 303.8 L482.9 298.0 L483.5 291.1 L484.1 284.0 L484.4 280.7 L484.7 277.4 L485.3 270.2 L485.9 263.4 L486.5 257.7 L486.5 257.7 L487.1 255.3 L487.7 253.2 L488.3 251.4 L488.9 249.7 L489.2 249.0 L489.5 248.5 L490.1 247.7 L490.7 247.0 L491.3 246.2 L491.9 245.6 L492.5 245.1 L493.1 244.6 L493.3 244.5 L493.7 244.6 L494.3 244.7 L494.9 244.9 L495.5 245.1 L496.1 245.3 L496.7 245.5 L497.3 245.7 L497.9 245.9 L498.5 246.1 L499.1 246.3 L499.7 246.4 L500.0 246.5 L500.1 246.5 L501.5 246.1 L503.0 245.4 L504.5 244.5 L506.0 243.6 L507.2 243.0 L507.5 242.9 L509.0 242.2 L510.5 241.5 L512.0 240.9 L513.5 240.2 L515.0 239.6 L516.5 239.1 L517.3 238.8 L518.0 238.6 L519.5 238.3 L521.0 238.0 L522.5 237.7 L524.0 237.4 L525.5 237.2 L527.0 237.0 L527.4 237.0 L528.5 237.2 L530.0 237.6 L531.5 238.2 L533.0 238.8 L534.5 239.2 L535.6 239.4 L536.0 239.3 L537.5 238.9 L539.0 238.3 L540.5 237.6 L542.0 236.9 L543.5 236.4 L543.7 236.4 L545.0 236.3 L546.5 236.2 L548.0 236.1 L549.5 236.0 L551.0 236.0 L552.5 235.9 L554.0 235.8 L555.5 235.8 L557.0 235.7 L558.5 235.7 L560.0 235.6 L561.5 235.6 L563.0 235.5 L563.9 235.5 L564.5 235.5 L566.0 235.5 L567.5 235.4 L569.0 235.4 L570.5 235.4 L572.0 235.4 L573.5 235.4 L575.0 235.4 L576.5 235.3 L578.0 235.3 L579.5 235.3 L581.0 235.3 L582.2 235.3 L582.5 235.3 L584.0 235.4 L585.5 235.6 L587.0 235.8 L588.5 236.0 L590.0 236.3 L591.5 236.5 L593.0 236.7 L594.5 236.9 L596.0 237.0 L596.4 237.0 L597.5 236.9 L599.0 236.8 L600.5 236.7 L602.0 236.5 L603.5 236.3 L605.0 236.1 L606.5 235.9 L608.0 235.6 L609.5 235.4 L611.0 235.2 L612.5 235.0 L614.0 234.9 L615.5 234.8 L616.7 234.7 L617.0 234.7 L618.5 234.7 L620.0 234.7 L621.5 234.7 L623.0 234.7 L624.5 234.7 L626.0 234.7 L627.5 234.7 L629.0 234.7 L630.5 234.7 L632.0 234.7 L633.5 234.7 L634.9 234.7 L635.0 234.7 L636.5 235.0 L638.0 235.4 L639.5 235.9 L641.0 236.2 L642.0 236.4 L642.5 236.4 L644.0 236.4 L645.5 236.3 L647.0 236.3 L648.5 236.3 L650.0 236.2 L651.5 236.2 L653.0 236.1 L654.5 236.1 L656.0 236.0 L657.5 236.0 L659.0 235.9 L660.5 235.8 L662.0 235.8 L663.5 235.7 L665.0 235.6 L666.5 235.5 L667.3 235.5 L668.0 235.4 L669.5 235.2 L671.0 234.9 L672.5 234.6 L674.0 234.3 L675.5 234.0 L677.0 233.7 L678.5 233.5 L680.0 233.3 L680.5 233.3 L681.5 233.9 L683.0 235.0 L683.6 235.3 L684.5 235.3 L686.0 235.1 L687.5 234.9 L689.0 234.8 L690.5 234.6 L692.0 234.4 L693.5 234.3 L693.7 234.3 L695.0 234.3 L696.5 234.4 L698.0 234.5 L699.5 234.7 L701.0 234.8 L702.5 234.9 L704.0 235.0 L705.5 235.2 L707.0 235.3 L707.9 235.3 L708.5 235.3 L710.0 235.4 L711.5 235.4 L713.0 235.5 L714.5 235.5 L716.0 235.5 L717.5 235.6 L719.0 235.6 L720.5 235.7 L722.0 235.7 L723.5 235.7 L725.0 235.8 L726.5 235.8 L728.0 235.8 L729.5 235.9 L731.0 235.9 L732.5 235.9 L734.0 235.9 L735.5 236.0 L737.0 236.0 L738.3 236.0 L738.5 236.0 L740.0 235.8 L741.5 235.5 L743.0 235.2 L744.5 234.9 L746.0 234.7 L746.4 234.7 L747.5 235.1 L749.0 235.9 L750.5 236.9 L752.0 237.9 L753.5 238.9 L754.5 239.4 L755.0 239.5 L756.5 240.0 L758.0 240.3 L759.5 240.7 L761.0 241.0 L762.5 241.3 L764.0 241.7 L764.7 241.8 L765.5 241.9 L767.0 242.2 L768.5 242.4 L770.0 242.7 L771.5 242.9 L772.0 243.0 L773.0 243.2 L774.5 243.5 L776.0 243.8 L777.5 244.1 L779.0 244.4 L780.1 244.7 L780.5 244.9 L782.0 245.5 L783.5 246.3 L785.0 247.1 L786.5 247.9 L788.0 248.8 L789.5 249.6 L790.3 250.0 L791.0 250.3 L792.5 251.1 L794.0 251.9 L795.5 252.8 L797.0 253.6 L798.5 254.5 L800.0 255.3 L801.5 256.2 L803.0 257.0 L804.5 257.8 L806.0 258.6 L807.5 259.4 L809.0 260.1 L810.5 260.7 L812.0 261.4 L813.5 261.9 L815.0 262.4 L816.5 262.8 L817.6 263.0 L818.0 262.9 L819.5 262.3 L821.0 261.5 L822.5 260.6 L824.0 259.7 L825.5 259.2 L825.8 259.1 L827.0 259.6 L828.5 260.5 L830.0 261.6 L831.5 262.9 L833.0 264.2 L834.5 265.3 L834.9 265.6 L836.0 266.2 L837.5 267.1 L839.0 267.9 L840.5 268.8 L842.0 269.6 L843.5 270.4 L845.0 271.2 L846.5 272.0 L848.0 272.7 L849.5 273.5 L851.0 274.2 L851.1 274.3 L852.5 274.9 L854.0 275.6 L855.5 276.2 L857.0 276.9 L858.5 277.5 L860.0 278.1 L861.5 278.8 L863.0 279.4 L864.5 280.0 L866.0 280.6 L867.5 281.2 L869.0 281.8 L870.5 282.3 L872.0 282.9 L873.5 283.5 L875.0 284.1 L876.5 284.7 L878.0 285.3 L879.5 285.9 L881.0 286.5 L882.5 287.1 L884.0 287.8 L885.5 288.4 L887.0 289.0 L888.5 289.7 L890.0 290.4 L891.5 291.0 L893.0 291.7 L894.5 292.4 L895.7 293.0 L896.0 293.2 L897.5 294.1 L899.0 295.2 L903.8 298.1 L916.0 300.1 L936.3 300.1 L944.4 301.7 L964.6 299.1 L995.1 293.4 L1017.4 282.9 L1035.6 274.3 L1045.0 274.0 L1056.2 275.2 L1076.5 279.8 L1092.7 282.9 L1104.5 286.9 L1127.2 273.7 L1145.4 266.2 L1165.7 262.6 L1202.2 261.6 L1206.7 258.9 L1222.5 263.0 L1230.6 263.0 L1240.7 258.9 L1250.9 258.5 L1297.5 235.8 L1313.5 235.2" stroke="#5B9BD5"/>
<path d="M113.1 282.2 L113.1 204.4 L113.3 204.4 L113.9 205.0 L114.5 205.6 L115.1 206.2 L115.7 206.8 L116.3 207.5 L116.9 208.1 L117.5 208.8 L118.1 209.4 L118.7 210.1 L118.8 210.2 L119.3 210.9 L119.9 211.7 L120.5 212.5 L121.1 213.1 L121.2 213.2 L121.7 213.0 L122.3 212.6 L122.9 212.2 L123.5 211.7 L124.1 211.3 L124.7 211.0 L124.8 211.0 L125.3 212.1 L125.9 214.0 L126.5 216.3 L126.9 217.9 L127.1 219.7 L127.7 226.1 L128.3 233.3 L128.6 236.8 L128.9 240.8 L129.5 249.8 L130.1 258.7 L130.7 265.9 L131.0 268.4 L131.3 267.3 L131.9 264.3 L132.5 260.4 L133.1 256.1 L133.7 251.7 L134.2 248.2 L134.3 247.4 L134.9 242.7 L135.5 237.8 L136.1 232.7 L136.7 227.1 L136.7 227.1 L137.3 217.4 L137.9 207.0 L138.3 201.6 L138.5 200.7 L139.1 198.3 L139.7 196.2 L140.3 194.3 L140.9 192.5 L141.5 190.9 L142.1 189.3 L142.7 187.8 L143.3 186.2 L143.9 184.5 L144.0 184.2 L144.5 182.8 L145.1 181.1 L145.7 179.4 L146.3 177.7 L146.9 176.2 L147.5 174.8 L147.6 174.6 L148.1 173.9 L148.7 173.1 L149.3 172.4 L149.9 171.9 L150.2 171.7 L150.5 172.1 L151.1 173.3 L151.7 174.8 L152.3 176.5 L152.9 178.1 L152.9 178.1 L153.5 180.2 L154.1 182.5 L154.7 184.9 L155.3 187.1 L155.9 188.8 L156.2 189.4 L156.5 188.3 L157.1 184.8 L157.7 180.7 L158.3 176.9 L158.6 175.4 L158.9 174.8 L159.5 173.7 L160.1 172.7 L160.7 172.0 L161.0 171.7 L161.3 171.9 L161.9 172.6 L162.5 173.4 L163.1 174.4 L163.7 175.3 L164.3 176.2 L164.3 176.2 L164.9 177.2 L165.5 178.2 L166.1 179.3 L166.7 180.3 L167.3 181.4 L167.9 182.3 L168.5 183.2 L169.1 184.0 L169.2 184.1 L169.7 184.3 L170.3 184.5 L170.9 184.6 L171.5 184.8 L172.1 185.0 L172.7 185.2 L173.2 185.4 L173.3 185.6 L173.9 187.5 L174.5 189.9 L175.1 192.6 L175.7 195.4 L176.3 198.2 L176.5 199.1 L176.9 201.1 L177.5 204.3 L178.1 207.5 L178.7 210.7 L179.3 213.5 L179.7 215.2 L179.9 215.6 L180.5 217.0 L181.1 218.1 L181.3 218.3 L181.7 217.7 L182.3 216.2 L182.9 214.5 L183.5 213.0 L184.1 211.9 L184.1 211.9 L184.7 213.2 L185.3 215.1 L185.9 217.2 L186.5 219.2 L187.1 220.8 L187.3 221.1 L187.7 219.9 L188.3 217.4 L188.9 214.2 L189.5 210.1 L189.5 210.1 L190.1 189.0 L190.3 183.7 L190.7 183.3 L191.3 182.9 L191.9 182.5 L192.5 182.3 L193.1 182.0 L193.7 181.7 L194.3 181.2 L194.3 181.2 L194.9 179.0 L195.5 176.0 L196.1 172.7 L196.7 169.5 L197.3 166.8 L197.6 165.7 L197.9 165.4 L198.5 164.8 L199.1 164.3 L199.7 163.8 L200.3 163.4 L200.8 163.2 L200.9 163.2 L201.5 163.2 L202.1 163.2 L202.7 163.2 L203.3 163.2 L203.9 163.2 L204.5 163.2 L205.1 163.2 L205.7 163.2 L206.3 163.2 L206.5 163.2 L206.9 163.4 L207.5 163.8 L208.1 164.2 L208.7 164.7 L209.3 165.3 L209.9 165.9 L210.5 166.5 L210.6 166.6 L211.1 167.7 L211.7 169.4 L212.3 171.3 L212.9 173.0 L213.5 174.3 L213.8 174.8 L214.1 174.6 L214.7 173.9 L215.3 173.0 L215.9 172.1 L216.5 171.3 L217.1 170.7 L217.1 170.7 L217.7 171.3 L218.3 172.2 L218.9 173.2 L219.5 174.4 L220.1 175.6 L220.7 176.8 L221.1 177.6 L221.3 178.2 L221.9 179.9 L222.5 181.7 L223.1 183.6 L223.7 185.6 L224.3 187.7 L224.9 189.9 L225.2 191.0 L225.5 192.8 L226.1 197.0 L226.7 201.2 L227.3 204.7 L227.6 205.9 L227.9 205.0 L228.5 202.2 L229.1 198.7 L229.7 194.9 L230.3 191.0 L230.9 187.7 L231.5 185.1 L231.7 184.5 L232.1 184.7 L232.7 185.1 L233.3 185.5 L233.9 186.1 L234.1 186.3 L234.5 187.6 L235.1 190.2 L235.7 193.1 L236.3 196.1 L236.9 198.8 L237.4 200.5 L237.5 200.6 L238.1 201.2 L238.7 201.7 L239.3 202.2 L239.9 202.5 L240.3 202.7 L240.5 202.3 L241.1 200.9 L241.7 198.8 L242.3 196.4 L242.3 196.4 L242.9 186.5 L243.5 174.3 L244.0 166.1 L244.1 165.5 L244.7 162.2 L245.3 159.6 L245.6 158.6 L245.9 158.5 L246.5 158.1 L247.1 157.9 L247.7 157.6 L248.3 157.4 L248.9 157.3 L249.5 157.1 L249.6 157.1 L250.1 157.1 L250.7 157.1 L251.3 157.1 L251.9 157.1 L252.5 157.1 L253.1 157.1 L253.7 157.1 L254.3 157.1 L254.9 157.1 L255.5 157.1 L256.1 157.1 L256.7 157.1 L257.3 157.2 L257.9 157.2 L258.5 157.2 L259.1 157.2 L259.7 157.2 L260.3 157.2 L260.9 157.2 L261.0 157.2 L261.5 157.4 L262.1 157.6 L262.7 157.9 L263.3 158.2 L263.9 158.6 L264.5 158.9 L265.1 159.2 L265.7 159.4 L265.9 159.5 L266.3 159.6 L266.9 159.7 L267.5 159.8 L268.1 159.9 L268.7 159.9 L269.3 160.0 L269.9 160.1 L270.5 160.2 L271.1 160.2 L271.7 160.3 L272.3 160.3 L272.4 160.3 L272.9 160.3 L273.5 160.3 L274.1 160.2 L274.7 160.1 L275.3 160.1 L275.9 160.0 L276.5 159.9 L277.1 159.8 L277.7 159.8 L278.3 159.7 L278.9 159.7 L279.5 159.6 L279.7 159.6 L280.1 159.8 L280.7 160.2 L281.3 160.8 L281.9 161.4 L282.5 162.0 L283.1 162.8 L283.7 163.6 L283.7 163.6 L284.3 167.0 L284.9 171.4 L285.5 175.7 L285.7 176.9 L286.1 178.8 L286.7 181.8 L287.3 184.3 L287.8 185.7 L287.9 185.5 L288.5 183.2 L289.1 180.1 L289.4 178.5 L289.7 175.7 L290.3 169.2 L290.7 166.0 L290.9 165.8 L291.5 165.3 L292.1 164.8 L292.7 164.5 L293.3 164.2 L293.9 163.9 L294.3 163.8 L294.5 163.8 L295.1 164.0 L295.7 164.1 L296.3 164.3 L296.9 164.5 L297.5 164.7 L298.1 165.0 L298.7 165.2 L299.3 165.5 L299.9 165.8 L300.0 165.8 L300.5 166.3 L301.1 167.0 L301.7 167.8 L302.3 168.7 L302.9 169.6 L303.5 170.6 L304.0 171.5 L304.1 171.8 L304.7 174.2 L305.3 176.9 L305.9 179.9 L306.5 183.0 L306.5 183.0 L307.1 188.0 L307.7 193.5 L308.3 197.7 L308.4 198.1 L308.9 196.4 L309.5 193.4 L310.1 190.0 L310.5 188.0 L310.7 187.1 L311.3 184.3 L311.9 182.0 L312.1 181.5 L312.5 182.2 L313.1 183.7 L313.7 185.7 L314.3 187.8 L314.6 189.0 L314.9 191.5 L315.5 197.5 L316.1 204.3 L316.7 211.1 L317.0 214.3 L317.3 217.2 L317.9 223.5 L318.5 229.7 L319.1 235.2 L319.7 239.2 L319.8 239.7 L320.3 236.9 L320.9 232.2 L321.5 226.6 L322.1 220.5 L322.7 214.6 L322.7 214.6 L323.3 206.6 L323.9 197.9 L324.5 189.6 L325.1 183.0 L325.1 183.0 L325.7 180.8 L326.3 178.9 L326.9 177.5 L327.1 177.2 L327.5 178.1 L328.1 180.1 L328.7 182.5 L329.2 184.8 L329.3 185.8 L329.9 193.2 L330.5 202.0 L331.1 211.1 L331.6 218.2 L331.7 219.5 L332.3 227.5 L332.9 235.7 L333.5 243.5 L334.1 250.0 L334.6 253.8 L334.7 253.2 L335.3 248.5 L335.9 242.1 L336.5 234.7 L337.0 228.5 L337.1 226.7 L337.7 214.0 L338.3 201.5 L338.6 197.1 L338.9 196.5 L339.5 195.4 L340.1 194.5 L340.7 193.8 L341.3 193.0 L341.9 192.1 L342.2 191.6 L342.5 190.3 L343.1 187.2 L343.7 183.8 L344.3 180.0 L344.9 176.3 L345.5 172.7 L346.1 169.5 L346.3 168.5 L346.7 167.2 L347.3 165.2 L347.9 163.4 L348.5 161.9 L349.0 161.0 L349.1 161.1 L349.7 162.4 L350.3 164.1 L350.9 165.9 L351.5 167.5 L351.9 168.3 L352.1 168.4 L352.7 168.7 L353.3 168.9 L353.9 169.1 L354.5 169.3 L355.1 169.5 L355.7 169.7 L356.0 169.9 L356.3 170.6 L356.9 172.5 L357.5 174.7 L358.1 177.2 L358.4 178.5 L358.7 180.9 L359.3 186.2 L359.9 192.1 L360.5 198.3 L361.1 204.4 L361.7 210.2 L361.7 210.2 L362.3 215.3 L362.9 220.7 L363.5 226.1 L364.1 231.1 L364.7 235.3 L365.3 238.5 L365.4 238.9 L365.9 237.7 L366.5 235.8 L367.1 233.4 L367.7 230.8 L368.3 228.0 L368.6 226.6 L368.9 224.2 L369.5 218.8 L370.1 212.9 L370.7 206.7 L371.3 200.8 L371.5 199.0 L371.9 195.5 L372.5 190.0 L373.1 184.7 L373.7 179.6 L374.3 175.1 L374.7 172.6 L374.9 172.1 L375.5 170.6 L376.1 169.2 L376.7 168.0 L377.3 167.1 L377.7 166.6 L377.9 167.0 L378.5 168.6 L379.1 170.7 L379.7 173.0 L380.3 175.4 L380.4 175.8 L380.9 178.1 L381.5 181.2 L382.1 184.4 L382.7 187.6 L383.3 190.4 L383.7 192.1 L383.9 192.7 L384.5 194.2 L385.1 195.7 L385.7 197.0 L386.3 197.9 L386.4 198.0 L386.9 196.6 L387.5 194.2 L388.1 191.4 L388.6 189.2 L388.7 188.7 L389.3 185.6 L389.9 182.8 L390.2 181.9 L390.5 182.3 L391.1 183.7 L391.7 185.3 L392.3 186.9 L392.6 187.6 L392.9 188.2 L393.5 189.4 L394.1 190.4 L394.6 191.0 L394.7 190.9 L395.3 189.8 L395.9 188.3 L396.5 186.6 L396.7 186.0 L397.1 183.3 L397.7 178.4 L398.3 173.0 L398.9 167.9 L399.1 166.5 L399.5 164.4 L400.1 161.5 L400.7 158.8 L401.3 156.5 L401.5 155.9 L401.9 155.5 L402.5 154.9 L403.1 154.4 L403.7 153.9 L404.3 153.5 L404.8 153.3 L404.9 153.3 L405.5 153.3 L406.1 153.3 L406.7 153.4 L407.3 153.4 L407.9 153.4 L408.5 153.5 L409.1 153.5 L409.7 153.5 L410.3 153.6 L410.9 153.6 L411.5 153.7 L412.1 153.7 L412.1 153.7 L412.7 153.9 L413.3 154.1 L413.9 154.3 L414.5 154.5 L415.1 154.8 L415.7 155.1 L416.3 155.4 L416.9 155.7 L417.0 155.8 L417.5 156.6 L418.1 157.8 L418.7 159.2 L419.3 160.6 L419.9 161.8 L420.2 162.3 L420.5 162.6 L421.1 163.2 L421.7 163.8 L422.3 164.3 L422.9 164.7 L423.5 165.0 L423.5 165.0 L424.1 164.8 L424.7 164.5 L425.3 164.1 L425.9 163.6 L426.5 163.1 L426.7 162.9 L427.1 161.3 L427.7 158.1 L428.3 155.5 L428.3 155.5 L428.9 155.1 L429.5 154.8 L430.1 154.5 L430.7 154.2 L431.3 154.0 L431.9 153.8 L432.4 153.7 L432.5 153.7 L433.1 154.0 L433.7 154.3 L434.3 154.6 L434.9 155.0 L435.5 155.4 L436.1 155.8 L436.7 156.3 L437.3 156.8 L437.9 157.3 L438.1 157.4 L438.5 157.9 L439.1 158.7 L439.7 159.6 L440.3 160.5 L440.9 161.4 L441.5 162.4 L442.1 163.5 L442.7 164.6 L443.0 165.1 L443.3 166.0 L443.9 167.9 L444.5 169.9 L445.1 172.1 L445.7 174.6 L446.2 176.8 L446.3 177.7 L446.9 184.0 L447.5 191.2 L447.8 194.8 L448.1 199.0 L448.7 208.3 L449.3 217.7 L449.9 225.6 L450.3 229.2 L450.5 228.0 L451.1 222.7 L451.7 215.8 L452.3 208.1 L452.7 203.0 L452.9 199.2 L453.5 186.2 L454.1 173.7 L454.3 170.3 L454.7 167.0 L455.3 162.7 L455.9 159.2 L456.0 158.7 L456.5 157.8 L457.1 156.9 L457.7 156.0 L458.3 155.3 L458.9 154.7 L459.2 154.4 L459.5 154.3 L460.1 154.1 L460.7 153.8 L461.3 153.7 L461.9 153.5 L462.5 153.3 L463.1 153.2 L463.7 153.1 L464.1 153.0 L464.3 153.0 L464.9 153.1 L465.5 153.3 L466.1 153.4 L466.7 153.6 L467.3 153.8 L467.9 154.0 L468.5 154.2 L469.1 154.5 L469.7 154.7 L470.3 154.9 L470.6 155.1 L470.9 155.3 L471.5 155.8 L472.1 156.3 L472.7 156.9 L473.3 157.6 L473.9 158.3 L474.5 159.0 L474.6 159.1 L475.1 160.5 L475.7 162.3 L476.3 164.4 L476.9 166.7 L477.1 167.5 L477.5 170.3 L478.1 175.0 L478.7 180.1 L479.3 185.5 L479.5 187.3 L479.9 192.4 L480.5 201.1 L481.1 209.6 L481.7 216.2 L481.9 217.7 L482.3 215.1 L482.9 209.5 L483.5 202.6 L484.1 195.7 L484.4 192.4 L484.7 189.1 L485.3 182.1 L485.9 175.3 L486.5 169.7 L486.5 169.7 L487.1 167.4 L487.7 165.4 L488.3 163.7 L488.9 162.1 L489.2 161.4 L489.5 161.0 L490.1 160.3 L490.7 159.7 L491.3 159.1 L491.9 158.5 L492.5 158.1 L493.1 157.7 L493.3 157.6 L493.7 157.7 L494.3 157.8 L494.9 158.0 L495.5 158.3 L496.1 158.5 L496.7 158.7 L497.3 159.0 L497.9 159.3 L498.5 159.5 L499.1 159.7 L499.7 159.8 L500.0 159.9 L500.1 159.9 L501.5 159.4 L503.0 158.5 L504.5 157.5 L506.0 156.5 L507.2 155.8 L507.5 155.7 L509.0 154.9 L510.5 154.2 L512.0 153.5 L513.5 152.9 L515.0 152.3 L516.5 151.7 L517.3 151.4 L518.0 151.2 L519.5 150.9 L521.0 150.5 L522.5 150.2 L524.0 149.9 L525.5 149.6 L527.0 149.4 L527.4 149.3 L528.5 149.2 L530.0 149.1 L531.5 149.0 L533.0 149.0 L534.5 148.9 L536.0 148.8 L537.5 148.8 L539.0 148.7 L540.5 148.6 L542.0 148.6 L543.5 148.5 L543.7 148.5 L545.0 148.4 L546.5 148.4 L548.0 148.3 L549.5 148.2 L551.0 148.2 L552.5 148.1 L554.0 148.0 L555.5 148.0 L557.0 147.9 L558.5 147.8 L560.0 147.8 L561.5 147.8 L563.0 147.7 L563.9 147.7 L564.5 147.7 L566.0 147.7 L567.5 147.7 L569.0 147.7 L570.5 147.7 L572.0 147.7 L573.5 147.7 L575.0 147.7 L576.5 147.7 L578.0 147.7 L579.5 147.7 L581.0 147.7 L582.2 147.7 L582.5 147.7 L584.0 147.8 L585.5 148.0 L587.0 148.2 L588.5 148.4 L590.0 148.6 L591.5 148.8 L593.0 149.0 L594.5 149.2 L596.0 149.3 L596.4 149.3 L597.5 149.2 L599.0 149.1 L600.5 148.9 L602.0 148.7 L603.5 148.5 L605.0 148.2 L606.5 147.9 L608.0 147.7 L609.5 147.4 L611.0 147.2 L612.5 146.9 L614.0 146.8 L615.5 146.6 L616.7 146.5 L617.0 146.5 L618.5 146.5 L620.0 146.4 L621.5 146.4 L623.0 146.4 L624.5 146.4 L626.0 146.4 L627.5 146.4 L629.0 146.3 L630.5 146.3 L632.0 146.3 L633.5 146.3 L634.9 146.3 L635.0 146.3 L636.5 146.6 L638.0 147.1 L639.5 147.7 L641.0 148.1 L642.0 148.3 L642.5 148.3 L644.0 148.3 L645.5 148.2 L647.0 148.2 L648.5 148.1 L650.0 148.1 L651.5 148.0 L653.0 148.0 L654.5 147.9 L656.0 147.9 L657.5 147.8 L659.0 147.7 L660.5 147.7 L662.0 147.6 L663.5 147.5 L665.0 147.4 L666.5 147.3 L667.3 147.3 L668.0 147.2 L669.5 147.0 L671.0 146.8 L672.5 146.5 L674.0 146.2 L675.5 145.9 L677.0 145.7 L678.5 145.5 L680.0 145.3 L680.5 145.3 L681.5 145.5 L683.0 146.1 L684.5 146.6 L685.6 146.9 L686.0 146.9 L687.5 146.8 L689.0 146.7 L690.5 146.6 L692.0 146.5 L693.5 146.3 L695.0 146.2 L696.5 146.1 L697.8 146.1 L698.0 146.1 L699.5 146.2 L701.0 146.4 L702.5 146.6 L704.0 146.9 L705.5 147.1 L707.0 147.2 L707.9 147.3 L708.5 147.3 L710.0 147.3 L711.5 147.3 L713.0 147.3 L714.5 147.3 L716.0 147.3 L717.5 147.3 L719.0 147.3 L720.5 147.3 L722.0 147.3 L723.5 147.3 L725.0 147.3 L726.5 147.3 L728.0 147.3 L729.5 147.3 L731.0 147.3 L732.5 147.3 L734.0 147.3 L735.5 147.3 L737.0 147.3 L738.5 147.3 L740.0 147.3 L741.5 147.3 L743.0 147.3 L744.5 147.3 L746.0 147.3 L747.5 147.3 L749.0 147.3 L750.5 147.3 L752.0 147.3 L753.5 147.3 L755.0 147.3 L756.5 147.3 L758.0 147.3 L759.5 147.3 L761.0 147.3 L762.5 147.3 L764.0 147.3 L765.5 147.3 L767.0 147.3 L768.5 147.3 L770.0 147.3 L771.5 147.4 L773.0 147.5 L774.5 147.7 L776.0 147.9 L777.5 148.0 L779.0 148.1 L779.1 148.1 L780.5 148.0 L782.0 147.9 L783.5 147.7 L785.0 147.5 L786.5 147.4 L788.0 147.2 L789.5 147.0 L791.0 146.8 L792.5 146.6 L794.0 146.5 L794.3 146.5 L795.5 146.5 L797.0 146.5 L798.5 146.4 L800.0 146.4 L801.5 146.4 L803.0 146.4 L804.5 146.3 L806.0 146.3 L807.5 146.3 L809.0 146.3 L810.5 146.3 L810.6 146.3 L812.0 146.4 L813.5 146.4 L815.0 146.5 L816.5 146.7 L818.0 146.8 L819.5 146.9 L821.0 147.1 L822.5 147.2 L824.0 147.3 L825.5 147.5 L827.0 147.6 L828.5 147.7 L829.8 147.7 L830.0 147.7 L831.5 147.6 L833.0 147.5 L834.5 147.4 L836.0 147.3 L837.5 147.1 L839.0 147.0 L840.5 146.9 L841.0 146.9 L842.0 146.9 L843.5 146.9 L845.0 146.9 L846.5 146.8 L848.0 146.8 L849.5 146.8 L851.0 146.8 L852.5 146.8 L854.0 146.8 L855.5 146.7 L857.0 146.7 L858.5 146.7 L860.0 146.7 L861.5 146.7 L863.0 146.7 L864.5 146.7 L866.0 146.7 L867.5 146.6 L869.0 146.6 L870.5 146.6 L872.0 146.6 L873.5 146.6 L875.0 146.6 L876.5 146.6 L878.0 146.6 L879.5 146.6 L881.0 146.6 L882.5 146.6 L884.0 146.5 L885.5 146.5 L887.0 146.5 L888.5 146.5 L890.0 146.5 L891.5 146.5 L893.0 146.5 L894.5 146.5 L896.0 146.5 L896.7 146.5 L897.5 146.8 L899.0 147.5 L918.6 162.9 L924.1 155.0 L930.2 161.1 L935.2 161.5 L942.7 168.6 L956.5 166.6 L971.7 159.9 L978.8 161.5 L979.9 168.0 L984.9 168.2 L987.4 165.1 L993.0 167.6 L1014.3 178.7 L1029.5 178.7 L1031.6 180.8 L1046.8 180.8 L1049.1 182.8 L1060.3 183.8 L1076.5 185.4 L1092.7 184.8 L1121.1 197.6 L1149.5 185.8 L1186.0 166.6 L1186.4 151.4 L1206.3 146.3 L1242.8 145.9 L1313.5 145.9" stroke="#70AD47"/>
<path d="M113.1 191.7 L113.1 126.7 L113.3 126.7 L113.9 127.1 L114.5 127.6 L115.1 128.0 L115.7 128.5 L116.3 128.9 L116.9 129.4 L117.5 129.9 L118.1 130.3 L118.7 130.8 L118.8 130.9 L119.3 131.4 L119.9 132.1 L120.5 132.7 L121.1 133.1 L121.2 133.2 L121.7 133.0 L122.3 132.6 L122.9 132.1 L123.5 131.7 L124.1 131.2 L124.7 130.9 L124.8 130.9 L125.3 131.5 L125.9 132.4 L126.5 133.6 L126.9 134.5 L127.1 135.9 L127.7 141.3 L128.3 147.6 L128.6 150.7 L128.9 154.2 L129.5 162.1 L130.1 170.0 L130.7 176.3 L131.0 178.5 L131.3 177.5 L131.9 174.8 L132.5 171.4 L133.1 167.5 L133.7 163.6 L134.2 160.4 L134.3 159.7 L134.9 155.4 L135.5 150.9 L136.1 146.2 L136.7 141.0 L136.7 141.0 L137.3 131.7 L137.9 121.8 L138.3 116.6 L138.5 115.8 L139.1 113.5 L139.7 111.5 L140.3 109.7 L140.9 108.1 L141.5 106.5 L142.1 105.1 L142.7 103.6 L143.3 102.1 L143.9 100.6 L144.0 100.3 L144.5 99.0 L145.1 97.4 L145.7 95.8 L146.3 94.3 L146.9 92.9 L147.5 91.6 L147.6 91.4 L148.1 90.8 L148.7 90.2 L149.3 89.6 L149.9 89.2 L150.2 89.0 L150.5 89.4 L151.1 90.4 L151.7 91.8 L152.3 93.2 L152.9 94.7 L152.9 94.7 L153.5 96.6 L154.1 98.8 L154.7 101.0 L155.3 103.0 L155.9 104.6 L156.2 105.2 L156.5 104.1 L157.1 100.9 L157.7 97.0 L158.3 93.5 L158.6 92.2 L158.9 91.8 L159.5 90.9 L160.1 90.2 L160.7 89.7 L161.0 89.5 L161.3 89.7 L161.9 90.4 L162.5 91.2 L163.1 92.1 L163.7 93.0 L164.3 93.9 L164.3 93.9 L164.9 94.8 L165.5 95.9 L166.1 96.9 L166.7 98.0 L167.3 99.0 L167.9 99.9 L168.5 100.8 L169.1 101.5 L169.2 101.6 L169.7 101.8 L170.3 102.0 L170.9 102.1 L171.5 102.3 L172.1 102.4 L172.7 102.6 L173.2 102.8 L173.3 103.0 L173.9 104.7 L174.5 106.8 L175.1 109.2 L175.7 111.7 L176.3 114.2 L176.5 115.0 L176.9 116.8 L177.5 119.7 L178.1 122.7 L178.7 125.6 L179.3 128.1 L179.7 129.6 L179.9 130.0 L180.5 131.0 L181.1 131.8 L181.3 132.0 L181.7 131.4 L182.3 129.9 L182.9 128.2 L183.5 126.6 L184.1 125.5 L184.1 125.5 L184.7 126.8 L185.3 128.6 L185.9 130.7 L186.5 132.7 L187.1 134.2 L187.3 134.5 L187.7 133.4 L188.3 131.3 L188.9 128.3 L189.5 124.7 L189.5 124.7 L190.1 103.9 L190.3 98.7 L190.7 98.3 L191.3 97.9 L191.9 97.6 L192.5 97.3 L193.1 97.1 L193.7 96.7 L194.3 96.3 L194.3 96.3 L194.9 94.1 L195.5 91.1 L196.1 87.8 L196.7 84.6 L197.3 81.9 L197.6 80.9 L197.9 80.6 L198.5 80.0 L199.1 79.5 L199.7 79.0 L200.3 78.6 L200.8 78.4 L200.9 78.4 L201.5 78.4 L202.1 78.4 L202.7 78.4 L203.3 78.4 L203.9 78.4 L204.5 78.4 L205.1 78.4 L205.7 78.4 L206.3 78.4 L206.5 78.4 L206.9 78.6 L207.5 78.9 L208.1 79.4 L208.7 79.9 L209.3 80.4 L209.9 81.0 L210.5 81.6 L210.6 81.7 L211.1 82.8 L211.7 84.5 L212.3 86.3 L212.9 88.0 L213.5 89.3 L213.8 89.8 L214.1 89.6 L214.7 88.9 L215.3 88.0 L215.9 87.1 L216.5 86.3 L217.1 85.7 L217.1 85.7 L217.7 86.3 L218.3 87.1 L218.9 88.1 L219.5 89.1 L220.1 90.3 L220.7 91.4 L221.1 92.2 L221.3 92.7 L221.9 94.4 L222.5 96.2 L223.1 98.0 L223.7 99.9 L224.3 102.0 L224.9 104.1 L225.2 105.2 L225.5 106.9 L226.1 111.0 L226.7 115.2 L227.3 118.6 L227.6 119.8 L227.9 118.9 L228.5 116.2 L229.1 112.7 L229.7 108.9 L230.3 105.2 L230.9 101.8 L231.5 99.3 L231.7 98.7 L232.1 98.9 L232.7 99.2 L233.3 99.6 L233.9 100.1 L234.1 100.3 L234.5 101.6 L235.1 104.1 L235.7 107.0 L236.3 109.9 L236.9 112.5 L237.4 114.2 L237.5 114.3 L238.1 114.8 L238.7 115.3 L239.3 115.7 L239.9 116.0 L240.3 116.2 L240.5 115.9 L241.1 114.4 L241.7 112.5 L242.3 110.1 L242.3 110.1 L242.9 100.3 L243.5 88.2 L244.0 80.0 L244.1 79.4 L244.7 76.2 L245.3 73.6 L245.6 72.7 L245.9 72.6 L246.5 72.3 L247.1 72.1 L247.7 72.0 L248.3 71.8 L248.9 71.7 L249.5 71.6 L249.6 71.6 L250.1 71.6 L250.7 71.6 L251.3 71.7 L251.9 71.7 L252.5 71.7 L253.1 71.7 L253.7 71.7 L254.3 71.8 L254.9 71.8 L255.5 71.8 L256.1 71.9 L256.7 71.9 L257.3 71.9 L257.9 72.0 L258.5 72.0 L259.1 72.1 L259.7 72.1 L260.3 72.1 L260.9 72.2 L261.0 72.2 L261.5 72.4 L262.1 72.7 L262.7 73.0 L263.3 73.4 L263.9 73.7 L264.5 74.1 L265.1 74.4 L265.7 74.7 L265.9 74.8 L266.3 74.9 L266.9 75.0 L267.5 75.2 L268.1 75.3 L268.7 75.4 L269.3 75.5 L269.9 75.7 L270.5 75.8 L271.1 75.8 L271.7 75.9 L272.3 76.0 L272.4 76.0 L272.9 76.0 L273.5 76.0 L274.1 75.9 L274.7 75.9 L275.3 75.9 L275.9 75.9 L276.5 75.8 L277.1 75.8 L277.7 75.8 L278.3 75.7 L278.9 75.7 L279.5 75.7 L279.7 75.7 L280.1 75.9 L280.7 76.3 L281.3 76.7 L281.9 77.2 L282.5 77.8 L283.1 78.5 L283.7 79.2 L283.7 79.2 L284.3 82.5 L284.9 86.8 L285.5 91.0 L285.7 92.2 L286.1 94.1 L286.7 96.9 L287.3 99.3 L287.8 100.7 L287.9 100.5 L288.5 98.3 L289.1 95.4 L289.4 93.9 L289.7 91.2 L290.3 84.8 L290.7 81.7 L290.9 81.6 L291.5 81.3 L292.1 81.0 L292.7 80.8 L293.3 80.6 L293.9 80.5 L294.3 80.4 L294.5 80.4 L295.1 80.5 L295.7 80.7 L296.3 80.8 L296.9 81.0 L297.5 81.1 L298.1 81.3 L298.7 81.5 L299.3 81.7 L299.9 82.0 L300.0 82.0 L300.5 82.5 L301.1 83.1 L301.7 83.9 L302.3 84.7 L302.9 85.6 L303.5 86.5 L304.0 87.4 L304.1 87.7 L304.7 90.0 L305.3 92.7 L305.9 95.6 L306.5 98.7 L306.5 98.7 L307.1 103.7 L307.7 109.1 L308.3 113.3 L308.4 113.7 L308.9 112.0 L309.5 109.0 L310.1 105.6 L310.5 103.6 L310.7 102.7 L311.3 99.9 L311.9 97.6 L312.1 97.1 L312.5 97.7 L313.1 99.0 L313.7 100.7 L314.3 102.6 L314.6 103.6 L314.9 106.0 L315.5 111.8 L316.1 118.4 L316.7 124.9 L317.0 128.0 L317.3 130.8 L317.9 136.8 L318.5 142.8 L319.1 148.0 L319.7 151.8 L319.8 152.3 L320.3 149.6 L320.9 145.1 L321.5 139.7 L322.1 133.8 L322.7 128.0 L322.7 128.0 L323.3 120.2 L323.9 111.7 L324.5 103.5 L325.1 97.1 L325.1 97.1 L325.7 95.1 L326.3 93.4 L326.9 92.2 L327.1 91.9 L327.5 92.7 L328.1 94.5 L328.7 96.7 L329.2 98.7 L329.3 99.7 L329.9 106.8 L330.5 115.3 L331.1 124.3 L331.6 131.2 L331.7 132.4 L332.3 140.1 L332.9 148.1 L333.5 155.6 L334.1 161.9 L334.6 165.6 L334.7 165.1 L335.3 160.5 L335.9 154.2 L336.5 147.1 L337.0 141.0 L337.1 139.3 L337.7 126.7 L338.3 114.4 L338.6 110.1 L338.9 109.5 L339.5 108.6 L340.1 107.8 L340.7 107.2 L341.3 106.5 L341.9 105.7 L342.2 105.2 L342.5 104.0 L343.1 101.0 L343.7 97.6 L344.3 93.9 L344.9 90.2 L345.5 86.6 L346.1 83.4 L346.3 82.5 L346.7 81.2 L347.3 79.3 L347.9 77.5 L348.5 76.1 L349.0 75.2 L349.1 75.3 L349.7 76.6 L350.3 78.3 L350.9 80.1 L351.5 81.7 L351.9 82.5 L352.1 82.6 L352.7 82.9 L353.3 83.1 L353.9 83.3 L354.5 83.5 L355.1 83.7 L355.7 83.9 L356.0 84.1 L356.3 84.8 L356.9 86.5 L357.5 88.6 L358.1 91.0 L358.4 92.2 L358.7 94.5 L359.3 99.6 L359.9 105.4 L360.5 111.5 L361.1 117.5 L361.7 123.1 L361.7 123.1 L362.3 128.1 L362.9 133.4 L363.5 138.6 L364.1 143.4 L364.7 147.5 L365.3 150.6 L365.4 151.0 L365.9 149.8 L366.5 148.0 L367.1 145.7 L367.7 143.1 L368.3 140.4 L368.6 139.0 L368.9 136.7 L369.5 131.3 L370.1 125.5 L370.7 119.4 L371.3 113.5 L371.5 111.7 L371.9 108.2 L372.5 102.9 L373.1 97.6 L373.7 92.6 L374.3 88.2 L374.7 85.7 L374.9 85.2 L375.5 83.8 L376.1 82.5 L376.7 81.3 L377.3 80.4 L377.7 80.0 L377.9 80.4 L378.5 82.0 L379.1 84.0 L379.7 86.3 L380.3 88.6 L380.4 89.0 L380.9 91.3 L381.5 94.4 L382.1 97.6 L382.7 100.7 L383.3 103.5 L383.7 105.2 L383.9 105.7 L384.5 107.2 L385.1 108.7 L385.7 109.9 L386.3 110.8 L386.4 110.9 L386.9 109.5 L387.5 107.0 L388.1 104.2 L388.6 102.0 L388.7 101.5 L389.3 98.4 L389.9 95.6 L390.2 94.7 L390.5 95.1 L391.1 96.4 L391.7 98.0 L392.3 99.6 L392.6 100.3 L392.9 100.9 L393.5 102.0 L394.1 103.0 L394.6 103.6 L394.7 103.5 L395.3 102.4 L395.9 101.0 L396.5 99.3 L396.7 98.7 L397.1 96.0 L397.7 91.1 L398.3 85.7 L398.9 80.7 L399.1 79.2 L399.5 77.2 L400.1 74.2 L400.7 71.5 L401.3 69.3 L401.5 68.7 L401.9 68.3 L402.5 67.7 L403.1 67.2 L403.7 66.8 L404.3 66.4 L404.8 66.2 L404.9 66.2 L405.5 66.2 L406.1 66.2 L406.7 66.3 L407.3 66.3 L407.9 66.3 L408.5 66.4 L409.1 66.4 L409.7 66.4 L410.3 66.5 L410.9 66.5 L411.5 66.6 L412.1 66.6 L412.1 66.6 L412.7 66.8 L413.3 67.0 L413.9 67.2 L414.5 67.4 L415.1 67.7 L415.7 68.0 L416.3 68.3 L416.9 68.6 L417.0 68.7 L417.5 69.5 L418.1 70.7 L418.7 72.1 L419.3 73.5 L419.9 74.7 L420.2 75.2 L420.5 75.5 L421.1 76.1 L421.7 76.7 L422.3 77.2 L422.9 77.6 L423.5 77.9 L423.5 77.9 L424.1 77.7 L424.7 77.4 L425.3 77.1 L425.9 76.6 L426.5 76.2 L426.7 76.0 L427.1 74.4 L427.7 71.2 L428.3 68.7 L428.3 68.7 L428.9 68.4 L429.5 68.1 L430.1 67.8 L430.7 67.6 L431.3 67.4 L431.9 67.2 L432.4 67.1 L432.5 67.1 L433.1 67.3 L433.7 67.6 L434.3 67.9 L434.9 68.2 L435.5 68.6 L436.1 68.9 L436.7 69.3 L437.3 69.7 L437.9 70.2 L438.1 70.3 L438.5 70.8 L439.1 71.5 L439.7 72.3 L440.3 73.2 L440.9 74.1 L441.5 75.0 L442.1 76.0 L442.7 77.1 L443.0 77.6 L443.3 78.5 L443.9 80.3 L444.5 82.2 L445.1 84.4 L445.7 86.8 L446.2 89.0 L446.3 89.9 L446.9 96.1 L447.5 103.2 L447.8 106.8 L448.1 110.9 L448.7 120.3 L449.3 129.6 L449.9 137.4 L450.3 141.0 L450.5 139.8 L451.1 134.6 L451.7 127.8 L452.3 120.1 L452.7 115.0 L452.9 111.3 L453.5 98.3 L454.1 85.8 L454.3 82.5 L454.7 79.3 L455.3 75.0 L455.9 71.6 L456.0 71.1 L456.5 70.3 L457.1 69.4 L457.7 68.6 L458.3 67.9 L458.9 67.3 L459.2 67.1 L459.5 67.0 L460.1 66.9 L460.7 66.7 L461.3 66.6 L461.9 66.5 L462.5 66.4 L463.1 66.3 L463.7 66.2 L464.1 66.2 L464.3 66.2 L464.9 66.3 L465.5 66.4 L466.1 66.5 L466.7 66.6 L467.3 66.7 L467.9 66.8 L468.5 67.0 L469.1 67.1 L469.7 67.3 L470.3 67.4 L470.6 67.5 L470.9 67.7 L471.5 68.1 L472.1 68.6 L472.7 69.1 L473.3 69.7 L473.9 70.3 L474.5 71.0 L474.6 71.1 L475.1 72.4 L475.7 74.2 L476.3 76.2 L476.9 78.4 L477.1 79.2 L477.5 81.9 L478.1 86.5 L478.7 91.6 L479.3 96.9 L479.5 98.7 L479.9 103.7 L480.5 112.3 L481.1 120.8 L481.7 127.3 L481.9 128.8 L482.3 126.2 L482.9 120.6 L483.5 113.8 L484.1 106.8 L484.4 103.6 L484.7 100.3 L485.3 93.3 L485.9 86.5 L486.5 80.9 L486.5 80.9 L487.1 78.7 L487.7 76.7 L488.3 74.9 L488.9 73.4 L489.2 72.7 L489.5 72.4 L490.1 71.7 L490.7 71.0 L491.3 70.4 L491.9 69.9 L492.5 69.5 L493.1 69.1 L493.3 69.0 L493.7 69.1 L494.3 69.2 L494.9 69.3 L495.5 69.5 L496.1 69.7 L496.7 69.9 L497.3 70.1 L497.9 70.3 L498.5 70.5 L499.1 70.6 L499.7 70.7 L500.0 70.8 L500.1 70.8 L501.5 70.4 L503.0 69.7 L504.5 68.9 L506.0 68.0 L507.2 67.4 L507.5 67.3 L509.0 66.6 L510.5 65.9 L512.0 65.3 L513.5 64.6 L515.0 64.1 L516.5 63.5 L517.3 63.3 L518.0 63.2 L519.5 62.9 L521.0 62.7 L522.5 62.4 L524.0 62.2 L525.5 62.0 L527.0 61.9 L527.4 61.9 L528.5 62.1 L530.0 62.5 L531.5 63.1 L533.0 63.7 L534.5 64.1 L535.6 64.3 L536.0 64.2 L537.5 63.8 L539.0 63.2 L540.5 62.5 L542.0 61.8 L543.5 61.3 L543.7 61.3 L545.0 61.2 L546.5 61.1 L548.0 61.0 L549.5 60.9 L551.0 60.8 L552.5 60.7 L554.0 60.6 L555.5 60.6 L557.0 60.5 L558.5 60.5 L560.0 60.4 L561.5 60.4 L563.0 60.3 L563.9 60.3 L564.5 60.3 L566.0 60.3 L567.5 60.3 L569.0 60.3 L570.5 60.3 L572.0 60.3 L573.5 60.3 L575.0 60.3 L576.5 60.3 L578.0 60.3 L579.5 60.3 L581.0 60.3 L582.2 60.3 L582.5 60.3 L584.0 60.4 L585.5 60.5 L587.0 60.7 L588.5 60.9 L590.0 61.1 L591.5 61.3 L593.0 61.4 L594.5 61.6 L596.0 61.7 L596.4 61.7 L597.5 61.6 L599.0 61.5 L600.5 61.3 L602.0 61.1 L603.5 60.9 L605.0 60.6 L606.5 60.3 L608.0 60.1 L609.5 59.8 L611.0 59.6 L612.5 59.3 L614.0 59.2 L615.5 59.0 L616.7 58.9 L617.0 58.9 L618.5 58.9 L620.0 58.8 L621.5 58.8 L623.0 58.8 L624.5 58.8 L626.0 58.8 L627.5 58.8 L629.0 58.7 L630.5 58.7 L632.0 58.7 L633.5 58.7 L634.9 58.7 L635.0 58.7 L636.5 59.0 L638.0 59.5 L639.5 60.1 L641.0 60.5 L642.0 60.7 L642.5 60.7 L644.0 60.7 L645.5 60.6 L647.0 60.6 L648.5 60.6 L650.0 60.5 L651.5 60.5 L653.0 60.5 L654.5 60.4 L656.0 60.4 L657.5 60.3 L659.0 60.3 L660.5 60.2 L662.0 60.1 L663.5 60.1 L665.0 60.0 L666.5 59.9 L667.3 59.9 L668.0 59.8 L669.5 59.6 L671.0 59.3 L672.5 59.0 L674.0 58.7 L675.5 58.4 L677.0 58.1 L678.5 57.8 L680.0 57.6 L680.5 57.6 L681.5 58.1 L683.0 59.1 L683.6 59.3 L684.5 59.3 L686.0 59.4 L687.5 59.5 L689.0 59.5 L690.5 59.6 L692.0 59.6 L693.5 59.7 L695.0 59.7 L696.5 59.7 L698.0 59.8 L699.5 59.8 L701.0 59.8 L702.5 59.8 L704.0 59.9 L705.5 59.9 L707.0 59.9 L707.9 59.9 L708.5 59.9 L710.0 59.9 L711.5 59.9 L713.0 59.9 L714.5 59.9 L716.0 59.9 L717.5 59.9 L719.0 59.9 L720.5 59.9 L722.0 59.9 L723.5 59.9 L725.0 59.9 L726.5 59.9 L728.0 59.9 L729.5 59.9 L731.0 59.9 L732.5 59.9 L734.0 59.9 L734.3 59.9 L735.5 60.2 L737.0 60.9 L738.5 61.5 L739.3 61.7 L740.0 61.5 L741.5 60.9 L743.0 60.4 L743.4 60.3 L744.5 60.4 L746.0 60.5 L747.5 60.7 L749.0 60.8 L750.5 60.9 L752.0 60.8 L753.5 60.6 L755.0 60.3 L756.5 60.1 L758.0 59.9 L758.6 59.9 L759.5 59.9 L761.0 60.0 L762.5 60.0 L764.0 60.1 L765.5 60.2 L767.0 60.3 L768.5 60.4 L770.0 60.5 L771.5 60.6 L773.0 60.7 L774.5 60.7 L776.0 60.8 L777.5 60.9 L779.0 60.9 L779.1 60.9 L780.5 60.8 L782.0 60.7 L783.5 60.5 L785.0 60.3 L786.5 60.1 L788.0 59.9 L789.5 59.7 L791.0 59.6 L792.5 59.4 L794.0 59.3 L794.3 59.3 L795.5 59.3 L797.0 59.3 L798.5 59.3 L800.0 59.3 L801.5 59.3 L803.0 59.3 L804.5 59.3 L806.0 59.3 L807.5 59.3 L809.0 59.3 L810.5 59.3 L810.6 59.3 L812.0 59.3 L813.5 59.4 L815.0 59.4 L816.5 59.5 L818.0 59.5 L819.5 59.6 L821.0 59.7 L822.5 59.8 L824.0 59.9 L824.7 59.9 L825.5 60.1 L827.0 60.6 L828.5 61.2 L829.8 61.5 L830.0 61.5 L831.5 61.0 L833.0 60.5 L834.5 60.0 L834.9 59.9 L836.0 59.9 L837.5 59.8 L839.0 59.8 L840.5 59.8 L842.0 59.8 L843.5 59.7 L845.0 59.7 L846.5 59.7 L848.0 59.7 L849.5 59.7 L851.0 59.6 L852.5 59.6 L854.0 59.6 L855.5 59.6 L857.0 59.6 L858.5 59.6 L860.0 59.6 L861.5 59.6 L863.0 59.5 L864.5 59.5 L866.0 59.5 L867.5 59.5 L869.0 59.5 L870.5 59.5 L871.4 59.5 L872.0 59.5 L873.5 59.5 L875.0 59.5 L876.5 59.5 L878.0 59.5 L879.5 59.5 L881.0 59.5 L882.5 59.5 L884.0 59.5 L885.5 59.5 L887.0 59.5 L888.5 59.5 L890.0 59.5 L891.5 59.5 L893.0 59.6 L894.5 59.6 L896.0 59.6 L897.5 59.6 L899.0 59.6 L917.0 59.7 L918.4 66.0 L942.3 76.9 L953.5 76.1 L965.7 72.8 L972.8 73.5 L993.0 77.5 L1050.0 87.6 L1080.6 91.7 L1100.8 95.8 L1112.0 95.4 L1117.0 91.7 L1141.4 80.6 L1161.7 72.4 L1175.8 66.4 L1176.3 62.9 L1188.0 61.9 L1206.3 58.2 L1242.8 57.8 L1313.5 57.6" stroke="#264478"/>
</g>
<g font-size="37.33px"><text transform="translate(113.0 791.8) scale(1 1.045)" text-anchor="middle">500</text><text transform="translate(284.5 791.8) scale(1 1.045)" text-anchor="middle">1000</text><text transform="translate(456.0 791.8) scale(1 1.045)" text-anchor="middle">1500</text><text transform="translate(627.5 791.8) scale(1 1.045)" text-anchor="middle">2000</text><text transform="translate(799.0 791.8) scale(1 1.045)" text-anchor="middle">2500</text><text transform="translate(970.5 791.8) scale(1 1.045)" text-anchor="middle">3000</text><text transform="translate(1142.0 791.8) scale(1 1.045)" text-anchor="middle">3500</text><text transform="translate(1313.5 791.8) scale(1 1.045)" text-anchor="middle">4000</text></g>
<text x="713.8" y="846.6" text-anchor="middle" font-size="37.5px" font-weight="bold">Wavelength (cm<tspan font-size="23.5px" dy="-12.5">-1</tspan><tspan dy="12.5">)</tspan></text>
<text transform="translate(67 398.1) rotate(-90)" text-anchor="middle" font-size="37.5px" font-weight="bold">Transmittance (%)</text>
<g font-size="36.6px"><line x1="116.8" y1="939.9" x2="196.5" y2="939.9" stroke="#4472C4" stroke-width="6.4" stroke-linecap="round"/><text transform="translate(205.6 952.3) scale(1 1.055)">M1</text><line x1="291.6" y1="939.9" x2="371.3" y2="939.9" stroke="#ED7D31" stroke-width="6.4" stroke-linecap="round"/><text transform="translate(380.4 952.3) scale(1 1.055)">M2</text><line x1="466.4" y1="939.9" x2="546.1" y2="939.9" stroke="#A5A5A5" stroke-width="6.4" stroke-linecap="round"/><text transform="translate(555.2 952.3) scale(1 1.055)">M3</text><line x1="641.2" y1="939.9" x2="720.9" y2="939.9" stroke="#FFC000" stroke-width="6.4" stroke-linecap="round"/><text transform="translate(730.0 952.3) scale(1 1.055)">M4</text><line x1="816.0" y1="939.9" x2="895.7" y2="939.9" stroke="#5B9BD5" stroke-width="6.4" stroke-linecap="round"/><text transform="translate(904.8 952.3) scale(1 1.055)">M5</text><line x1="990.8" y1="939.9" x2="1070.5" y2="939.9" stroke="#70AD47" stroke-width="6.4" stroke-linecap="round"/><text transform="translate(1079.6 952.3) scale(1 1.055)">M6</text><line x1="1165.6" y1="939.9" x2="1245.3" y2="939.9" stroke="#264478" stroke-width="6.4" stroke-linecap="round"/><text transform="translate(1254.4 952.3) scale(1 1.055)">M7</text></g>
</svg>
</body></html>
